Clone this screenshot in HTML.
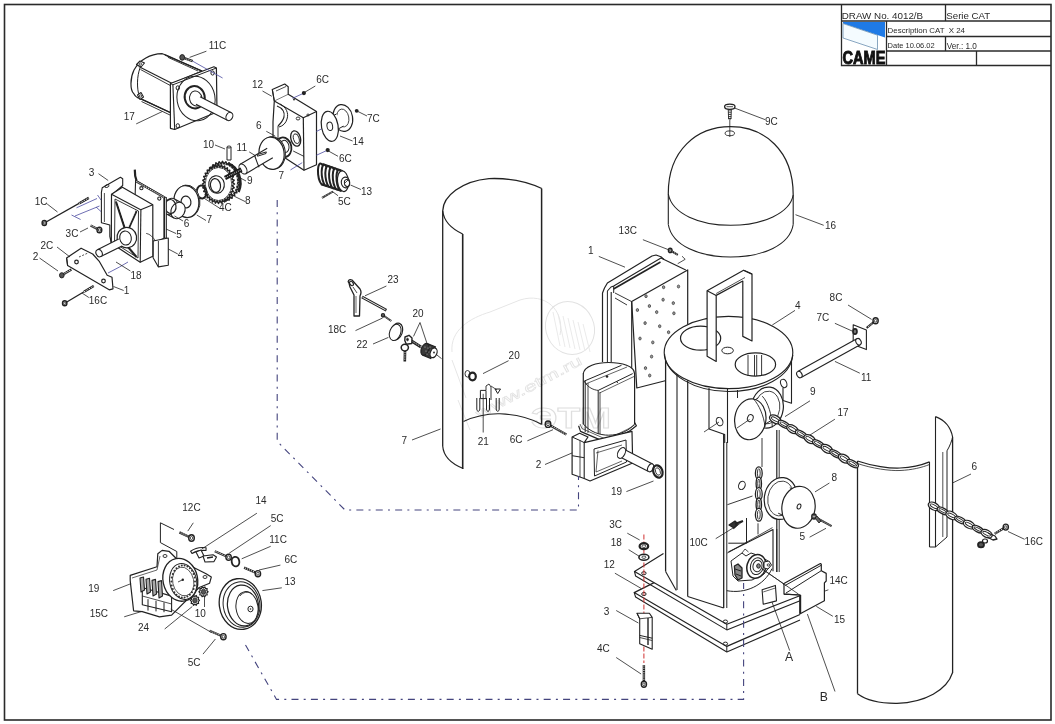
<!DOCTYPE html>
<html><head><meta charset="utf-8"><style>
html,body{margin:0;padding:0;background:#fff;}
svg{display:block;filter:blur(0.3px);font-family:"Liberation Sans",sans-serif;}
</style></head><body>
<svg width="1055" height="724" viewBox="0 0 1055 724">
<rect width="1055" height="724" fill="#fff"/>
<rect x="4.5" y="4.5" width="1046.5" height="715.5" fill="none" stroke="#2a2a2a" stroke-width="1.6"/>
<g stroke="#2a2a2a" stroke-width="1.3" fill="none"><polyline points="841.5,4.5 841.5,65.5 1051,65.5"/><line x1="841.5" y1="21" x2="1051" y2="21"/><line x1="886.5" y1="36.5" x2="1051" y2="36.5"/><line x1="886.5" y1="51" x2="1051" y2="51"/><line x1="886.5" y1="21" x2="886.5" y2="65.5"/><line x1="945.5" y1="4.5" x2="945.5" y2="21"/><line x1="945.5" y1="36.5" x2="945.5" y2="51"/><line x1="976.5" y1="51" x2="976.5" y2="65.5"/></g>
<polygon points="843,22 885,22 885,37.5 843,23.5" fill="#1f7ae6"/>
<polygon points="843,23.5 877.5,35.2 877.5,49.5 843,38" fill="#f4fbff" stroke="#6b8fb0" stroke-width="0.8"/>
<text x="842.5" y="64.0" font-size="17.5" fill="#111" font-weight="bold" textLength="43" lengthAdjust="spacingAndGlyphs" stroke="#111" stroke-width="0.9">CAME</text>
<text x="841.8" y="18.7" font-size="9.8" fill="#2a2a2a" >DRAW No. 4012/B</text>
<text x="946.3" y="18.7" font-size="9.7" fill="#2a2a2a" >Serie CAT</text>
<text x="887.6" y="33.3" font-size="7.9" fill="#2a2a2a" >Description CAT &#160;X 24</text>
<text x="887.6" y="48.4" font-size="7.5" fill="#2a2a2a" >Date 10.06.02</text>
<text x="946.8" y="48.6" font-size="8.2" fill="#2a2a2a" >Ver.: 1.0</text>
<path d="M442.7,211 C443,196 462,181 489,178.6 C510,177.8 528,182 541.8,188.5" stroke="#222" stroke-width="1.3" fill="none" stroke-linejoin="round" />
<path d="M442.7,211 C444,222 452,229 462.7,234" stroke="#222" stroke-width="1.2" fill="none" stroke-linejoin="round" />
<line x1="442.7" y1="211.0" x2="442.7" y2="446.0" stroke="#222" stroke-width="1.3" />
<path d="M442.7,446 C443.5,457 452,464 463.2,468.5" stroke="#222" stroke-width="1.2" fill="none" stroke-linejoin="round" />
<line x1="462.7" y1="234.0" x2="462.7" y2="469.0" stroke="#222" stroke-width="1.6" />
<line x1="541.6" y1="188.5" x2="541.6" y2="424.5" stroke="#222" stroke-width="1.5" />
<path d="M463.5,421.4 C478,415 490,413.5 500,413.8 C515,414.5 530,418 541.5,424.2" stroke="#222" stroke-width="1.1" fill="none" stroke-linejoin="round" />
<path d="M668.3,194 C668,150 697,126.7 730.5,126.7 C764,126.7 793.2,150 793.2,195" stroke="#222" stroke-width="1.2" fill="none" stroke-linejoin="round" />
<path d="M668.3,194 C672,214 700,225.3 730.5,225.3 C763,225.3 790,213 793.2,195" stroke="#222" stroke-width="1.1" fill="none" stroke-linejoin="round" />
<line x1="668.3" y1="194.0" x2="668.3" y2="224.5" stroke="#222" stroke-width="1.1" />
<line x1="793.2" y1="195.0" x2="793.2" y2="224.5" stroke="#222" stroke-width="1.1" />
<path d="M668.3,224.5 C672,246 700,257 730.5,257 C763,257 790,245 793.2,224.5" stroke="#222" stroke-width="1.1" fill="none" stroke-linejoin="round" />
<ellipse cx="729.8" cy="133.3" rx="4.7" ry="2.4" transform="rotate(0 729.8 133.3)" stroke="#222" stroke-width="0.9" fill="none"/>
<line x1="729.8" y1="120.0" x2="729.8" y2="137.0" stroke="#222" stroke-width="0.8" />
<polygon points="728.2,108.0 731.4,108.0 731.0,119.0 728.6,119.0" stroke="#222" stroke-width="0.9" fill="#fff" stroke-linejoin="round" />
<line x1="728.4" y1="110.0" x2="731.2" y2="110.0" stroke="#222" stroke-width="0.9" />
<line x1="728.4" y1="112.2" x2="731.2" y2="112.2" stroke="#222" stroke-width="0.9" />
<line x1="728.4" y1="114.4" x2="731.2" y2="114.4" stroke="#222" stroke-width="0.9" />
<line x1="728.4" y1="116.6" x2="731.2" y2="116.6" stroke="#222" stroke-width="0.9" />
<line x1="728.4" y1="118.6" x2="731.2" y2="118.6" stroke="#222" stroke-width="0.9" />
<ellipse cx="729.8" cy="106.7" rx="5.2" ry="2.6" transform="rotate(0 729.8 106.7)" stroke="#222" stroke-width="1.3" fill="#fff"/>
<line x1="726.5" y1="106.7" x2="733.0" y2="106.7" stroke="#222" stroke-width="0.8" />
<line x1="734.5" y1="108.0" x2="765.0" y2="119.6" stroke="#222" stroke-width="0.8" />
<text x="765.0" y="124.6" font-size="11.6" fill="#2a2a2a" textLength="12.8" lengthAdjust="spacingAndGlyphs">9C</text>
<line x1="795.5" y1="214.7" x2="823.7" y2="225.3" stroke="#222" stroke-width="0.8" />
<text x="824.9" y="229.1" font-size="11.6" fill="#2a2a2a" textLength="11.1" lengthAdjust="spacingAndGlyphs">16</text>
<polyline points="602.5,362.0 602.5,293.0 604.5,288.0 607.4,283.0 652.0,256.0 656.0,255.0 660.9,256.8 664.0,259.5" stroke="#222" stroke-width="1.2" fill="#fff" stroke-linejoin="round" />
<line x1="607.4" y1="291.0" x2="607.4" y2="362.0" stroke="#222" stroke-width="1.0" />
<line x1="611.2" y1="292.0" x2="611.2" y2="362.0" stroke="#222" stroke-width="1.1" />
<polyline points="607.4,291.0 611.0,287.0 613.7,286.0 661.0,258.0 664.0,259.5 685.8,269.9" stroke="#222" stroke-width="1.1" fill="none" stroke-linejoin="round" />
<line x1="613.7" y1="286.0" x2="613.7" y2="293.0" stroke="#222" stroke-width="1.0" />
<line x1="613.5" y1="289.0" x2="660.5" y2="262.0" stroke="#222" stroke-width="1.6" />
<line x1="615.0" y1="293.0" x2="631.7" y2="301.6" stroke="#222" stroke-width="0.9" />
<line x1="615.0" y1="298.0" x2="627.0" y2="305.0" stroke="#222" stroke-width="0.9" />
<polygon points="631.7,301.6 687.7,269.9 687.7,375.0 636.8,388.0" stroke="#222" stroke-width="1.2" fill="#fff" stroke-linejoin="round" />
<line x1="631.7" y1="301.6" x2="631.7" y2="388.0" stroke="#222" stroke-width="1.1" />
<ellipse cx="663.6" cy="287.2" rx="1.2" ry="1.5" transform="rotate(0 663.6 287.2)" stroke="#444" stroke-width="0.8" fill="#999"/>
<ellipse cx="678.5" cy="286.5" rx="1.2" ry="1.5" transform="rotate(0 678.5 286.5)" stroke="#444" stroke-width="0.8" fill="#999"/>
<ellipse cx="646.0" cy="296.2" rx="1.2" ry="1.5" transform="rotate(0 646.0 296.2)" stroke="#444" stroke-width="0.8" fill="#999"/>
<ellipse cx="663.1" cy="299.7" rx="1.2" ry="1.5" transform="rotate(0 663.1 299.7)" stroke="#444" stroke-width="0.8" fill="#999"/>
<ellipse cx="673.3" cy="303.1" rx="1.2" ry="1.5" transform="rotate(0 673.3 303.1)" stroke="#444" stroke-width="0.8" fill="#999"/>
<ellipse cx="649.4" cy="306.0" rx="1.2" ry="1.5" transform="rotate(0 649.4 306.0)" stroke="#444" stroke-width="0.8" fill="#999"/>
<ellipse cx="637.4" cy="310.0" rx="1.2" ry="1.5" transform="rotate(0 637.4 310.0)" stroke="#444" stroke-width="0.8" fill="#999"/>
<ellipse cx="656.7" cy="312.1" rx="1.2" ry="1.5" transform="rotate(0 656.7 312.1)" stroke="#444" stroke-width="0.8" fill="#999"/>
<ellipse cx="673.9" cy="313.3" rx="1.2" ry="1.5" transform="rotate(0 673.9 313.3)" stroke="#444" stroke-width="0.8" fill="#999"/>
<ellipse cx="645.1" cy="323.1" rx="1.2" ry="1.5" transform="rotate(0 645.1 323.1)" stroke="#444" stroke-width="0.8" fill="#999"/>
<ellipse cx="659.7" cy="326.2" rx="1.2" ry="1.5" transform="rotate(0 659.7 326.2)" stroke="#444" stroke-width="0.8" fill="#999"/>
<ellipse cx="668.6" cy="332.2" rx="1.2" ry="1.5" transform="rotate(0 668.6 332.2)" stroke="#444" stroke-width="0.8" fill="#999"/>
<ellipse cx="640.0" cy="338.5" rx="1.2" ry="1.5" transform="rotate(0 640.0 338.5)" stroke="#444" stroke-width="0.8" fill="#999"/>
<ellipse cx="652.8" cy="342.4" rx="1.2" ry="1.5" transform="rotate(0 652.8 342.4)" stroke="#444" stroke-width="0.8" fill="#999"/>
<ellipse cx="651.6" cy="356.6" rx="1.2" ry="1.5" transform="rotate(0 651.6 356.6)" stroke="#444" stroke-width="0.8" fill="#999"/>
<ellipse cx="645.5" cy="368.1" rx="1.2" ry="1.5" transform="rotate(0 645.5 368.1)" stroke="#444" stroke-width="0.8" fill="#999"/>
<ellipse cx="649.7" cy="375.5" rx="1.2" ry="1.5" transform="rotate(0 649.7 375.5)" stroke="#444" stroke-width="0.8" fill="#999"/>
<line x1="670.2" y1="250.4" x2="677.8" y2="254.9" stroke="#222" stroke-width="2.0" />
<line x1="670.2" y1="250.4" x2="677.8" y2="254.9" stroke="#fff" stroke-width="0.9" stroke-dasharray="1 1.2"/>
<ellipse cx="670.2" cy="250.4" rx="1.8" ry="2.1" transform="rotate(0 670.2 250.4)" stroke="#222" stroke-width="1.4" fill="#fff"/>
<ellipse cx="670.2" cy="250.4" rx="0.8" ry="1.0" transform="rotate(0 670.2 250.4)" stroke="#222" stroke-width="0.8" fill="none"/>
<polyline points="682.0,256.2 685.2,259.3 677.7,263.7" stroke="#222" stroke-width="0.8" fill="none" stroke-linejoin="round" />
<line x1="642.9" y1="239.7" x2="668.7" y2="249.8" stroke="#222" stroke-width="0.8" />
<text x="618.6" y="234.0" font-size="11.6" fill="#2a2a2a" textLength="18.3" lengthAdjust="spacingAndGlyphs">13C</text>
<line x1="598.8" y1="256.4" x2="625.0" y2="267.2" stroke="#222" stroke-width="0.8" />
<text x="588.0" y="253.7" font-size="11.6" fill="#2a2a2a" textLength="5.6" lengthAdjust="spacingAndGlyphs">1</text>
<polygon points="634.2,592.6 664.0,574.0 800.0,615.0 726.8,646.4" stroke="none" stroke-width="0" fill="#fff" stroke-linejoin="round" />
<polyline points="664.6,577.4 634.2,592.6 726.8,646.4 800.0,614.5" stroke="#222" stroke-width="1.2" fill="none" stroke-linejoin="round" />
<polyline points="634.2,592.6 635.6,597.0 726.8,652.0 800.0,620.0" stroke="#222" stroke-width="1.1" fill="none" stroke-linejoin="round" />
<line x1="726.8" y1="646.4" x2="726.8" y2="652.0" stroke="#222" stroke-width="1.0" />
<ellipse cx="725.4" cy="643.7" rx="2.2" ry="1.6" transform="rotate(0 725.4 643.7)" stroke="#222" stroke-width="1.0" fill="none"/>
<ellipse cx="643.9" cy="594.0" rx="2.2" ry="1.6" transform="rotate(0 643.9 594.0)" stroke="#222" stroke-width="1.0" fill="none"/>
<polygon points="634.5,571.5 663.5,553.5 810.0,590.0 726.8,624.3" stroke="none" stroke-width="0" fill="#fff" stroke-linejoin="round" />
<polyline points="663.5,553.5 634.5,571.5 726.8,624.3 812.0,591.0" stroke="#222" stroke-width="1.2" fill="none" stroke-linejoin="round" />
<polyline points="634.5,571.5 635.6,576.0 726.8,629.9 812.0,596.0" stroke="#222" stroke-width="1.1" fill="none" stroke-linejoin="round" />
<line x1="726.8" y1="624.3" x2="726.8" y2="629.9" stroke="#222" stroke-width="1.0" />
<ellipse cx="725.4" cy="621.6" rx="2.2" ry="1.6" transform="rotate(0 725.4 621.6)" stroke="#222" stroke-width="1.0" fill="none"/>
<ellipse cx="643.9" cy="573.2" rx="2.2" ry="1.6" transform="rotate(0 643.9 573.2)" stroke="#222" stroke-width="1.0" fill="none"/>
<polygon points="665.6,352.0 665.6,571.5 676.3,590.5 687.7,596.5 723.7,608.0 726.8,608.0 726.8,595.0 740.0,594.0 770.0,583.0 773.0,571.2 779.2,572.0 779.2,352.0" stroke="none" stroke-width="0" fill="#fff" stroke-linejoin="round" />
<line x1="665.6" y1="355.0" x2="665.6" y2="571.5" stroke="#222" stroke-width="1.3" />
<line x1="665.6" y1="571.5" x2="676.3" y2="590.5" stroke="#222" stroke-width="1.1" />
<line x1="677.0" y1="372.0" x2="677.0" y2="590.0" stroke="#222" stroke-width="1.1" />
<line x1="687.7" y1="378.0" x2="687.7" y2="596.5" stroke="#222" stroke-width="1.2" />
<line x1="687.7" y1="596.5" x2="723.7" y2="608.0" stroke="#222" stroke-width="1.1" />
<line x1="723.7" y1="434.0" x2="723.7" y2="608.0" stroke="#222" stroke-width="1.3" />
<line x1="726.8" y1="442.0" x2="726.8" y2="608.0" stroke="#222" stroke-width="1.0" />
<polyline points="709.0,388.0 709.0,429.0 724.7,434.6 724.7,443.0" stroke="#222" stroke-width="1.1" fill="none" stroke-linejoin="round" />
<line x1="727.5" y1="389.0" x2="727.5" y2="443.0" stroke="#222" stroke-width="1.1" />
<line x1="737.5" y1="390.0" x2="737.5" y2="398.0" stroke="#222" stroke-width="1.0" />
<ellipse cx="719.6" cy="421.6" rx="3.2" ry="4.3" transform="rotate(-20 719.6 421.6)" stroke="#222" stroke-width="1.0" fill="none"/>
<line x1="719.0" y1="422.0" x2="704.0" y2="432.0" stroke="#222" stroke-width="0.8" />
<line x1="776.8" y1="430.0" x2="776.8" y2="572.0" stroke="#222" stroke-width="1.2" />
<line x1="779.2" y1="430.0" x2="779.2" y2="572.0" stroke="#222" stroke-width="0.9" />
<polyline points="791.5,360.0 791.5,403.3 783.0,400.5 783.0,388.0" stroke="#222" stroke-width="1.1" fill="none" stroke-linejoin="round" />
<ellipse cx="783.7" cy="383.4" rx="3.0" ry="4.3" transform="rotate(-20 783.7 383.4)" stroke="#222" stroke-width="1.0" fill="none"/>
<ellipse cx="741.9" cy="485.4" rx="3.2" ry="4.3" transform="rotate(20 741.9 485.4)" stroke="#222" stroke-width="1.0" fill="none"/>
<polyline points="727.4,504.7 752.5,496.0" stroke="#222" stroke-width="0.9" fill="none" stroke-linejoin="round" />
<polyline points="728.5,552.0 773.0,529.6 773.0,571.2" stroke="#222" stroke-width="1.1" fill="none" stroke-linejoin="round" />
<line x1="776.8" y1="529.0" x2="776.8" y2="572.0" stroke="#222" stroke-width="0.9" />
<path d="M726.8,590.7 C745,594 764,586 772,568.6" stroke="#222" stroke-width="1.0" fill="none" stroke-linejoin="round" />
<ellipse cx="728.5" cy="352.5" rx="64.3" ry="36.2" transform="rotate(0 728.5 352.5)" stroke="#222" stroke-width="1.15" fill="#fff"/>
<path d="M664.5,354 C666,375 695,391.5 728.5,391.5 C762,391.5 791,377 792.8,355" stroke="#222" stroke-width="1.1" fill="none" stroke-linejoin="round" />
<ellipse cx="700.6" cy="338.2" rx="20.1" ry="12.0" transform="rotate(0 700.6 338.2)" stroke="#222" stroke-width="1.2" fill="none"/>
<ellipse cx="727.6" cy="350.5" rx="5.8" ry="3.3" transform="rotate(0 727.6 350.5)" stroke="#222" stroke-width="1.0" fill="none"/>
<ellipse cx="755.4" cy="364.5" rx="20.2" ry="11.6" transform="rotate(0 755.4 364.5)" stroke="#222" stroke-width="1.2" fill="none"/>
<line x1="748.0" y1="355.0" x2="748.0" y2="376.0" stroke="#222" stroke-width="0.9" />
<line x1="754.5" y1="355.0" x2="754.5" y2="376.0" stroke="#222" stroke-width="0.9" />
<line x1="756.7" y1="355.0" x2="756.7" y2="376.0" stroke="#222" stroke-width="0.9" />
<line x1="761.6" y1="355.0" x2="761.6" y2="376.0" stroke="#222" stroke-width="0.9" />
<polygon points="707.1,356.2 707.1,290.8 743.6,270.3 752.0,274.1 752.0,341.0 742.8,336.4 742.8,281.0 716.2,295.4 716.2,361.5 707.1,356.2" stroke="#222" stroke-width="1.2" fill="#fff" stroke-linejoin="round" />
<line x1="707.1" y1="290.8" x2="716.2" y2="295.4" stroke="#222" stroke-width="1.1" />
<line x1="743.6" y1="270.3" x2="752.0" y2="274.1" stroke="#222" stroke-width="1.1" />
<line x1="716.2" y1="293.5" x2="745.0" y2="277.5" stroke="#222" stroke-width="0.8" />
<line x1="795.0" y1="310.4" x2="772.3" y2="325.0" stroke="#222" stroke-width="0.8" />
<text x="795.0" y="308.6" font-size="11.6" fill="#2a2a2a" textLength="5.6" lengthAdjust="spacingAndGlyphs">4</text>
<polygon points="583.3,373.6 583.3,424.0 634.6,424.0 634.6,373.6" stroke="none" stroke-width="0" fill="#fff" stroke-linejoin="round" />
<line x1="583.3" y1="373.6" x2="583.3" y2="424.0" stroke="#222" stroke-width="1.2" />
<line x1="634.6" y1="373.6" x2="634.6" y2="424.0" stroke="#222" stroke-width="1.2" />
<path d="M583.3,374 C584,366 597,362.5 608.5,362.5 C622,362.5 634.6,366 634.6,374" stroke="#222" stroke-width="1.2" fill="#fff" stroke-linejoin="round" />
<line x1="584.2" y1="381.1" x2="621.5" y2="365.3" stroke="#222" stroke-width="1.0" />
<line x1="585.5" y1="384.0" x2="627.0" y2="367.0" stroke="#222" stroke-width="0.7" />
<line x1="598.2" y1="390.4" x2="632.7" y2="373.6" stroke="#222" stroke-width="1.0" />
<line x1="599.5" y1="393.0" x2="634.0" y2="376.5" stroke="#222" stroke-width="0.7" />
<line x1="585.2" y1="381.0" x2="585.2" y2="432.0" stroke="#222" stroke-width="1.0" />
<line x1="588.0" y1="383.0" x2="588.0" y2="433.0" stroke="#222" stroke-width="0.8" />
<line x1="598.2" y1="390.4" x2="598.2" y2="434.0" stroke="#222" stroke-width="1.0" />
<line x1="600.0" y1="392.0" x2="600.0" y2="434.0" stroke="#222" stroke-width="0.8" />
<path d="M584,381 C588,388 594,390 598.2,390.4" stroke="#222" stroke-width="0.9" fill="none" stroke-linejoin="round" />
<circle cx="607.0" cy="376.5" r="1.3" fill="#222"/>
<text x="616.5" y="384.0" font-size="5" fill="#2a2a2a" >&#8226;</text>
<path d="M583.3,424 C590,432 600,435.2 608.5,435.2 C620,435.2 630,430 634.6,424" stroke="#222" stroke-width="1.0" fill="none" stroke-linejoin="round" />
<polyline points="578.6,425.8 580.5,431.4 606.6,442.6 629.0,431.4 636.4,425.8 634.6,422.5" stroke="#222" stroke-width="1.2" fill="none" stroke-linejoin="round" />
<polyline points="580.0,424.0 582.0,428.6 606.6,439.5 628.0,429.0 634.6,425.0" stroke="#222" stroke-width="0.7" fill="none" stroke-linejoin="round" />
<polygon points="572.1,437.0 579.6,433.3 588.0,437.0 584.2,442.6 632.0,431.4 632.7,463.0 590.0,481.0 584.2,478.5 572.1,474.3" stroke="#222" stroke-width="1.2" fill="#fff" stroke-linejoin="round" />
<line x1="584.2" y1="442.6" x2="584.2" y2="478.5" stroke="#222" stroke-width="1.1" />
<line x1="572.1" y1="437.0" x2="580.0" y2="440.5" stroke="#222" stroke-width="1.0" />
<line x1="580.0" y1="440.5" x2="584.2" y2="442.6" stroke="#222" stroke-width="1.0" />
<line x1="580.0" y1="440.5" x2="580.0" y2="477.0" stroke="#222" stroke-width="0.8" />
<line x1="572.1" y1="455.7" x2="584.2" y2="457.7" stroke="#222" stroke-width="1.0" />
<polygon points="594.0,449.0 626.0,440.0 626.5,462.0 594.5,476.0" stroke="#222" stroke-width="1.0" fill="none" stroke-linejoin="round" />
<line x1="596.0" y1="453.0" x2="622.0" y2="445.0" stroke="#222" stroke-width="0.7" />
<line x1="596.0" y1="472.0" x2="622.0" y2="461.0" stroke="#222" stroke-width="0.7" />
<line x1="598.0" y1="450.5" x2="596.0" y2="472.0" stroke="#222" stroke-width="0.7" />
<polygon points="619.5,456.7 648.6,471.6 652.6,464.0 623.5,449.1" stroke="none" stroke-width="0" fill="#fff" stroke-linejoin="round" />
<line x1="619.5" y1="456.7" x2="648.6" y2="471.6" stroke="#222" stroke-width="1.1" />
<line x1="623.5" y1="449.1" x2="652.6" y2="464.0" stroke="#222" stroke-width="1.1" />
<ellipse cx="621.5" cy="452.9" rx="2.6" ry="4.3" transform="rotate(27.11369440294007 621.5 452.9)" stroke="#222" stroke-width="1.1" fill="#fff"/>
<ellipse cx="650.6" cy="467.8" rx="2.6" ry="4.3" transform="rotate(27.11369440294007 650.6 467.8)" stroke="#222" stroke-width="1.1" fill="#fff"/>
<ellipse cx="621.5" cy="452.9" rx="3.5" ry="5.8" transform="rotate(27 621.5 452.9)" stroke="#222" stroke-width="1.1" fill="#fff"/>
<ellipse cx="657.9" cy="471.5" rx="4.5" ry="6.3" transform="rotate(-20 657.9 471.5)" stroke="#222" stroke-width="2.2" fill="none"/>
<ellipse cx="657.9" cy="471.5" rx="2.3" ry="3.9" transform="rotate(-20 657.9 471.5)" stroke="#222" stroke-width="0.8" fill="none"/>
<line x1="626.4" y1="491.6" x2="653.5" y2="481.0" stroke="#222" stroke-width="0.8" />
<text x="611.0" y="494.8" font-size="11.6" fill="#2a2a2a" textLength="11.1" lengthAdjust="spacingAndGlyphs">19</text>
<line x1="545.0" y1="464.5" x2="572.2" y2="452.9" stroke="#222" stroke-width="0.8" />
<text x="535.8" y="467.7" font-size="11.6" fill="#2a2a2a" textLength="5.6" lengthAdjust="spacingAndGlyphs">2</text>
<line x1="548.0" y1="424.2" x2="566.4" y2="434.5" stroke="#222" stroke-width="2.3" />
<line x1="548.0" y1="424.2" x2="566.4" y2="434.5" stroke="#fff" stroke-width="1.035" stroke-dasharray="1 1.2"/>
<ellipse cx="548.0" cy="424.2" rx="2.8" ry="3.2" transform="rotate(0 548.0 424.2)" stroke="#222" stroke-width="1.4" fill="#fff"/>
<ellipse cx="548.0" cy="424.2" rx="1.3" ry="1.5" transform="rotate(0 548.0 424.2)" stroke="#222" stroke-width="0.8" fill="none"/>
<line x1="527.4" y1="440.8" x2="553.0" y2="429.7" stroke="#222" stroke-width="0.8" />
<text x="509.8" y="443.3" font-size="11.6" fill="#2a2a2a" textLength="12.8" lengthAdjust="spacingAndGlyphs">6C</text>
<line x1="857.5" y1="461.0" x2="857.5" y2="693.7" stroke="#222" stroke-width="1.3" />
<path d="M857.5,693.7 C866,700 880,703.5 897,703.3 C925,702.5 947,690 952.5,672.7" stroke="#222" stroke-width="1.2" fill="none" stroke-linejoin="round" />
<line x1="952.6" y1="437.0" x2="952.6" y2="673.0" stroke="#222" stroke-width="1.3" />
<path d="M857.5,461 C872,466 890,468.5 900,468 C912,467.5 922,465 929.5,461.9" stroke="#222" stroke-width="1.2" fill="none" stroke-linejoin="round" />
<path d="M857.5,463.5 C872,468.5 890,471 900,470.5 C912,470 922,467.5 929.5,464.5" stroke="#222" stroke-width="0.8" fill="none" stroke-linejoin="round" />
<line x1="929.5" y1="461.9" x2="929.5" y2="547.0" stroke="#222" stroke-width="1.1" />
<line x1="935.5" y1="416.6" x2="935.5" y2="547.0" stroke="#222" stroke-width="1.1" />
<path d="M935.5,416.6 C945,420 951,428 952.6,437" stroke="#222" stroke-width="1.2" fill="none" stroke-linejoin="round" />
<path d="M929.5,547 L935.5,547 L947,537 L947,450.8 C950,446 952,440 952.6,437" stroke="#222" stroke-width="1.0" fill="none" stroke-linejoin="round" />
<line x1="942.8" y1="452.0" x2="942.8" y2="537.0" stroke="#222" stroke-width="0.8" />
<line x1="971.0" y1="474.0" x2="952.7" y2="482.9" stroke="#222" stroke-width="0.8" />
<text x="971.5" y="469.9" font-size="11.6" fill="#2a2a2a" textLength="5.6" lengthAdjust="spacingAndGlyphs">6</text>
<ellipse cx="767.3" cy="407.6" rx="16.0" ry="20.6" transform="rotate(8 767.3 407.6)" stroke="#222" stroke-width="1.2" fill="#fff"/>
<ellipse cx="767.3" cy="407.6" rx="12.5" ry="16.5" transform="rotate(8 767.3 407.6)" stroke="#222" stroke-width="0.8" fill="none"/>
<path d="M762.3,396.2 C768,402 772,415 772.3,427.3" stroke="#222" stroke-width="0.9" fill="none" stroke-linejoin="round" />
<polygon points="758.8,428.1 771.8,420.1 758.2,397.9 745.2,405.9" stroke="none" stroke-width="0" fill="#fff" stroke-linejoin="round" />
<line x1="758.8" y1="428.1" x2="771.8" y2="420.1" stroke="#222" stroke-width="1.0" />
<line x1="745.2" y1="405.9" x2="758.2" y2="397.9" stroke="#222" stroke-width="1.0" />
<ellipse cx="750.3" cy="419.3" rx="15.6" ry="20.5" transform="rotate(8 750.3 419.3)" stroke="#222" stroke-width="1.2" fill="#fff"/>
<path d="M753.6,399 C759,405 764,416 765,427" stroke="#222" stroke-width="0.9" fill="none" stroke-linejoin="round" />
<ellipse cx="750.3" cy="418.2" rx="2.8" ry="3.6" transform="rotate(20 750.3 418.2)" stroke="#222" stroke-width="1.0" fill="none"/>
<line x1="749.5" y1="419.5" x2="737.0" y2="428.0" stroke="#222" stroke-width="0.8" />
<line x1="762.0" y1="438.0" x2="762.0" y2="467.0" stroke="#222" stroke-width="0.9" />
<line x1="810.0" y1="400.8" x2="785.0" y2="416.6" stroke="#222" stroke-width="0.8" />
<text x="810.0" y="394.6" font-size="11.6" fill="#2a2a2a" textLength="5.6" lengthAdjust="spacingAndGlyphs">9</text>
<ellipse cx="775.3" cy="419.4" rx="6.3" ry="3.7" transform="rotate(29.7 775.3 419.4)" stroke="#222" stroke-width="1.3" fill="#fff"/>
<ellipse cx="775.3" cy="419.4" rx="4.4" ry="1.5" transform="rotate(29.7 775.3 419.4)" stroke="#222" stroke-width="0.9" fill="none"/>
<ellipse cx="783.9" cy="424.4" rx="6.3" ry="2.9" transform="rotate(29.7 783.9 424.4)" stroke="#222" stroke-width="1.3" fill="#fff"/>
<ellipse cx="783.9" cy="424.4" rx="4.4" ry="1.2" transform="rotate(29.7 783.9 424.4)" stroke="#222" stroke-width="0.9" fill="none"/>
<ellipse cx="792.5" cy="429.2" rx="6.3" ry="3.7" transform="rotate(29.7 792.5 429.2)" stroke="#222" stroke-width="1.3" fill="#fff"/>
<ellipse cx="792.5" cy="429.2" rx="4.4" ry="1.5" transform="rotate(29.7 792.5 429.2)" stroke="#222" stroke-width="0.9" fill="none"/>
<ellipse cx="801.1" cy="434.1" rx="6.3" ry="2.9" transform="rotate(29.7 801.1 434.1)" stroke="#222" stroke-width="1.3" fill="#fff"/>
<ellipse cx="801.1" cy="434.1" rx="4.4" ry="1.2" transform="rotate(29.7 801.1 434.1)" stroke="#222" stroke-width="0.9" fill="none"/>
<ellipse cx="809.7" cy="439.1" rx="6.3" ry="3.7" transform="rotate(29.7 809.7 439.1)" stroke="#222" stroke-width="1.3" fill="#fff"/>
<ellipse cx="809.7" cy="439.1" rx="4.4" ry="1.5" transform="rotate(29.7 809.7 439.1)" stroke="#222" stroke-width="0.9" fill="none"/>
<ellipse cx="818.3" cy="443.9" rx="6.3" ry="2.9" transform="rotate(29.7 818.3 443.9)" stroke="#222" stroke-width="1.3" fill="#fff"/>
<ellipse cx="818.3" cy="443.9" rx="4.4" ry="1.2" transform="rotate(29.7 818.3 443.9)" stroke="#222" stroke-width="0.9" fill="none"/>
<ellipse cx="826.9" cy="448.9" rx="6.3" ry="3.7" transform="rotate(29.7 826.9 448.9)" stroke="#222" stroke-width="1.3" fill="#fff"/>
<ellipse cx="826.9" cy="448.9" rx="4.4" ry="1.5" transform="rotate(29.7 826.9 448.9)" stroke="#222" stroke-width="0.9" fill="none"/>
<ellipse cx="835.5" cy="453.8" rx="6.3" ry="2.9" transform="rotate(29.7 835.5 453.8)" stroke="#222" stroke-width="1.3" fill="#fff"/>
<ellipse cx="835.5" cy="453.8" rx="4.4" ry="1.2" transform="rotate(29.7 835.5 453.8)" stroke="#222" stroke-width="0.9" fill="none"/>
<ellipse cx="844.1" cy="458.6" rx="6.3" ry="3.7" transform="rotate(29.7 844.1 458.6)" stroke="#222" stroke-width="1.3" fill="#fff"/>
<ellipse cx="844.1" cy="458.6" rx="4.4" ry="1.5" transform="rotate(29.7 844.1 458.6)" stroke="#222" stroke-width="0.9" fill="none"/>
<ellipse cx="852.7" cy="463.6" rx="6.3" ry="2.9" transform="rotate(29.7 852.7 463.6)" stroke="#222" stroke-width="1.3" fill="#fff"/>
<ellipse cx="852.7" cy="463.6" rx="4.4" ry="1.2" transform="rotate(29.7 852.7 463.6)" stroke="#222" stroke-width="0.9" fill="none"/>
<line x1="834.9" y1="419.2" x2="810.0" y2="435.0" stroke="#222" stroke-width="0.8" />
<text x="837.5" y="415.6" font-size="11.6" fill="#2a2a2a" textLength="11.1" lengthAdjust="spacingAndGlyphs">17</text>
<ellipse cx="758.8" cy="473.2" rx="6.4" ry="3.4" transform="rotate(90.0 758.8 473.2)" stroke="#222" stroke-width="1.3" fill="#fff"/>
<ellipse cx="758.8" cy="473.2" rx="4.5" ry="1.4" transform="rotate(90.0 758.8 473.2)" stroke="#222" stroke-width="0.9" fill="none"/>
<ellipse cx="758.8" cy="483.6" rx="6.4" ry="2.7" transform="rotate(90.0 758.8 483.6)" stroke="#222" stroke-width="1.3" fill="#fff"/>
<ellipse cx="758.8" cy="483.6" rx="4.5" ry="1.1" transform="rotate(90.0 758.8 483.6)" stroke="#222" stroke-width="0.9" fill="none"/>
<ellipse cx="758.8" cy="494.0" rx="6.4" ry="3.4" transform="rotate(90.0 758.8 494.0)" stroke="#222" stroke-width="1.3" fill="#fff"/>
<ellipse cx="758.8" cy="494.0" rx="4.5" ry="1.4" transform="rotate(90.0 758.8 494.0)" stroke="#222" stroke-width="0.9" fill="none"/>
<ellipse cx="758.8" cy="504.4" rx="6.4" ry="2.7" transform="rotate(90.0 758.8 504.4)" stroke="#222" stroke-width="1.3" fill="#fff"/>
<ellipse cx="758.8" cy="504.4" rx="4.5" ry="1.1" transform="rotate(90.0 758.8 504.4)" stroke="#222" stroke-width="0.9" fill="none"/>
<ellipse cx="758.8" cy="514.8" rx="6.4" ry="3.4" transform="rotate(90.0 758.8 514.8)" stroke="#222" stroke-width="1.3" fill="#fff"/>
<ellipse cx="758.8" cy="514.8" rx="4.5" ry="1.4" transform="rotate(90.0 758.8 514.8)" stroke="#222" stroke-width="0.9" fill="none"/>
<polygon points="853.2,324.7 866.4,330.0 866.4,349.6 853.2,344.4" stroke="#222" stroke-width="1.1" fill="#fff" stroke-linejoin="round" />
<polygon points="856.8,338.7 797.7,371.6 801.1,377.6 860.2,344.7" stroke="none" stroke-width="0" fill="#fff" stroke-linejoin="round" />
<line x1="856.8" y1="338.7" x2="797.7" y2="371.6" stroke="#222" stroke-width="1.1" />
<line x1="860.2" y1="344.7" x2="801.1" y2="377.6" stroke="#222" stroke-width="1.1" />
<ellipse cx="858.5" cy="341.7" rx="2.5" ry="3.4" transform="rotate(150.89603137019105 858.5 341.7)" stroke="#222" stroke-width="1.1" fill="#fff"/>
<ellipse cx="799.4" cy="374.6" rx="2.5" ry="3.4" transform="rotate(150.89603137019105 799.4 374.6)" stroke="#222" stroke-width="1.1" fill="#fff"/>
<line x1="875.6" y1="320.7" x2="866.5" y2="328.0" stroke="#222" stroke-width="2.2" />
<line x1="875.6" y1="320.7" x2="866.5" y2="328.0" stroke="#fff" stroke-width="0.9900000000000001" stroke-dasharray="1 1.2"/>
<ellipse cx="875.6" cy="320.7" rx="2.6" ry="3.0" transform="rotate(0 875.6 320.7)" stroke="#222" stroke-width="1.4" fill="#fff"/>
<ellipse cx="875.6" cy="320.7" rx="1.2" ry="1.4" transform="rotate(0 875.6 320.7)" stroke="#222" stroke-width="0.8" fill="none"/>
<ellipse cx="855.0" cy="331.5" rx="2.0" ry="2.6" transform="rotate(0 855.0 331.5)" stroke="#222" stroke-width="1.6" fill="#777"/>
<line x1="848.0" y1="305.0" x2="871.6" y2="319.4" stroke="#222" stroke-width="0.8" />
<text x="829.6" y="301.3" font-size="11.6" fill="#2a2a2a" textLength="12.8" lengthAdjust="spacingAndGlyphs">8C</text>
<line x1="834.9" y1="323.3" x2="853.2" y2="331.5" stroke="#222" stroke-width="0.8" />
<text x="816.5" y="321.0" font-size="11.6" fill="#2a2a2a" textLength="12.8" lengthAdjust="spacingAndGlyphs">7C</text>
<line x1="859.8" y1="373.2" x2="834.9" y2="361.4" stroke="#222" stroke-width="0.8" />
<text x="861.0" y="381.3" font-size="11.6" fill="#2a2a2a" textLength="10.4" lengthAdjust="spacingAndGlyphs">11</text>
<ellipse cx="780.8" cy="498.5" rx="16.5" ry="21.0" transform="rotate(8 780.8 498.5)" stroke="#222" stroke-width="1.2" fill="#fff"/>
<ellipse cx="780.8" cy="498.5" rx="13.0" ry="17.5" transform="rotate(8 780.8 498.5)" stroke="#222" stroke-width="0.8" fill="none"/>
<polygon points="778.2,513.2 789.2,518.2 800.8,492.8 789.8,487.8" stroke="none" stroke-width="0" fill="#fff" stroke-linejoin="round" />
<line x1="778.2" y1="513.2" x2="789.2" y2="518.2" stroke="#222" stroke-width="1.0" />
<line x1="789.8" y1="487.8" x2="800.8" y2="492.8" stroke="#222" stroke-width="1.0" />
<ellipse cx="798.5" cy="507.3" rx="16.6" ry="21.0" transform="rotate(8 798.5 507.3)" stroke="#222" stroke-width="1.2" fill="#fff"/>
<ellipse cx="799.0" cy="506.5" rx="1.8" ry="2.6" transform="rotate(20 799.0 506.5)" stroke="#222" stroke-width="1.0" fill="none"/>
<line x1="814.0" y1="516.5" x2="831.6" y2="526.1" stroke="#222" stroke-width="2.0" />
<line x1="814.0" y1="516.5" x2="831.6" y2="526.1" stroke="#fff" stroke-width="0.9" stroke-dasharray="1 1.2"/>
<ellipse cx="814.0" cy="516.5" rx="2.2" ry="2.5" transform="rotate(0 814.0 516.5)" stroke="#222" stroke-width="1.4" fill="#fff"/>
<ellipse cx="814.0" cy="516.5" rx="1.0" ry="1.2" transform="rotate(0 814.0 516.5)" stroke="#222" stroke-width="0.8" fill="none"/>
<polygon points="817.0,516.0 821.0,521.0 819.0,523.0 815.0,518.0" stroke="#222" stroke-width="0.9" fill="#666" stroke-linejoin="round" />
<line x1="829.4" y1="483.0" x2="815.0" y2="491.9" stroke="#222" stroke-width="0.8" />
<text x="831.6" y="481.1" font-size="11.6" fill="#2a2a2a" textLength="5.6" lengthAdjust="spacingAndGlyphs">8</text>
<line x1="809.6" y1="537.2" x2="826.0" y2="528.3" stroke="#222" stroke-width="0.8" />
<text x="799.6" y="539.7" font-size="11.6" fill="#2a2a2a" textLength="5.6" lengthAdjust="spacingAndGlyphs">5</text>
<line x1="728.3" y1="543.2" x2="746.5" y2="543.2" stroke="#222" stroke-width="1.0" />
<line x1="746.5" y1="518.0" x2="746.5" y2="543.2" stroke="#222" stroke-width="1.0" />
<line x1="758.0" y1="523.3" x2="758.0" y2="534.4" stroke="#222" stroke-width="0.9" />
<line x1="727.2" y1="553.1" x2="772.5" y2="527.6" stroke="#222" stroke-width="0.8" />
<polygon points="731.0,561.0 742.0,553.0 746.0,556.0 751.0,553.0 760.0,556.0 768.0,561.0 770.0,566.0 764.0,574.0 752.0,580.0 738.0,581.0 733.0,576.0" stroke="#222" stroke-width="1.0" fill="#fff" stroke-linejoin="round" />
<ellipse cx="756.4" cy="566.4" rx="9.4" ry="12.1" transform="rotate(15 756.4 566.4)" stroke="#222" stroke-width="1.5" fill="#fff"/>
<ellipse cx="757.0" cy="566.2" rx="6.5" ry="8.5" transform="rotate(15 757.0 566.2)" stroke="#222" stroke-width="1.0" fill="#fff"/>
<ellipse cx="757.5" cy="566.0" rx="4.5" ry="5.8" transform="rotate(15 757.5 566.0)" stroke="#222" stroke-width="1.0" fill="#fff"/>
<ellipse cx="758.5" cy="566.0" rx="1.8" ry="2.2" transform="rotate(0 758.5 566.0)" stroke="#222" stroke-width="1.0" fill="#888"/>
<polygon points="764.0,562.0 769.0,561.0 771.5,565.0 768.0,569.0 764.0,568.0" stroke="#222" stroke-width="1.0" fill="#fff" stroke-linejoin="round" />
<ellipse cx="768.5" cy="565.0" rx="1.4" ry="1.1" transform="rotate(0 768.5 565.0)" stroke="#222" stroke-width="0.9" fill="none"/>
<polygon points="734.4,566.0 738.0,564.0 742.0,568.0 742.0,578.0 738.0,580.0 735.0,575.0" stroke="#222" stroke-width="1.3" fill="#888" stroke-linejoin="round" />
<line x1="735.0" y1="569.0" x2="741.0" y2="571.0" stroke="#222" stroke-width="1.0" />
<line x1="736.0" y1="574.0" x2="741.0" y2="576.0" stroke="#222" stroke-width="1.0" />
<line x1="742.0" y1="553.0" x2="745.0" y2="549.0" stroke="#222" stroke-width="0.8" />
<line x1="745.0" y1="549.0" x2="748.5" y2="552.0" stroke="#222" stroke-width="0.8" />
<line x1="733.0" y1="529.0" x2="743.0" y2="521.0" stroke="#222" stroke-width="0.8" />
<polygon points="729.0,525.0 735.0,521.0 738.0,524.0 734.0,528.0" stroke="#222" stroke-width="1.2" fill="#333" stroke-linejoin="round" />
<line x1="735.0" y1="524.0" x2="743.0" y2="521.0" stroke="#222" stroke-width="2.2" />
<line x1="715.7" y1="538.7" x2="733.7" y2="527.6" stroke="#222" stroke-width="0.8" />
<text x="689.5" y="545.9" font-size="11.6" fill="#2a2a2a" textLength="18.3" lengthAdjust="spacingAndGlyphs">10C</text>
<line x1="762.0" y1="568.8" x2="798.6" y2="594.2" stroke="#222" stroke-width="0.8" />
<polygon points="783.5,583.7 820.4,563.5 821.3,564.3 821.3,570.7 826.2,573.4 826.2,581.0 824.4,582.9 824.4,600.8 800.2,613.8 800.2,595.0 784.0,594.1 784.0,585.0" stroke="#222" stroke-width="1.2" fill="#fff" stroke-linejoin="round" />
<line x1="784.9" y1="585.6" x2="821.0" y2="565.4" stroke="#222" stroke-width="1.0" />
<line x1="786.0" y1="593.0" x2="821.3" y2="570.7" stroke="#222" stroke-width="1.0" />
<line x1="784.0" y1="594.1" x2="800.2" y2="595.0" stroke="#222" stroke-width="1.2" />
<line x1="800.2" y1="595.0" x2="800.2" y2="613.8" stroke="#222" stroke-width="2.0" />
<line x1="798.6" y1="594.2" x2="762.0" y2="568.8" stroke="#222" stroke-width="0.8" />
<polygon points="762.1,589.8 775.4,585.4 776.5,600.9 763.2,604.2" stroke="#222" stroke-width="1.1" fill="#fff" stroke-linejoin="round" />
<line x1="763.2" y1="592.0" x2="775.4" y2="588.0" stroke="#222" stroke-width="0.7" />
<line x1="789.7" y1="650.6" x2="772.0" y2="602.0" stroke="#222" stroke-width="0.8" />
<text x="785.0" y="660.6" font-size="12.2" fill="#2a2a2a" >A</text>
<line x1="835.0" y1="691.5" x2="807.4" y2="614.1" stroke="#222" stroke-width="0.8" />
<text x="819.8" y="700.6" font-size="12.2" fill="#2a2a2a" >B</text>
<line x1="828.4" y1="589.8" x2="825.0" y2="591.0" stroke="#222" stroke-width="0.8" />
<text x="829.5" y="583.5" font-size="11.6" fill="#2a2a2a" textLength="18.3" lengthAdjust="spacingAndGlyphs">14C</text>
<line x1="832.9" y1="616.3" x2="816.3" y2="606.4" stroke="#222" stroke-width="0.8" />
<text x="834.0" y="623.3" font-size="11.6" fill="#2a2a2a" textLength="11.1" lengthAdjust="spacingAndGlyphs">15</text>
<line x1="643.9" y1="534.5" x2="643.9" y2="663.0" stroke="#d03030" stroke-width="1.0" stroke-dasharray="5 2"/>
<ellipse cx="643.9" cy="546.2" rx="4.3" ry="3.0" transform="rotate(0 643.9 546.2)" stroke="#222" stroke-width="2.2" fill="#fff"/>
<ellipse cx="643.9" cy="546.2" rx="2.0" ry="1.3" transform="rotate(0 643.9 546.2)" stroke="#222" stroke-width="0.8" fill="none"/>
<ellipse cx="643.9" cy="557.2" rx="5.0" ry="3.0" transform="rotate(0 643.9 557.2)" stroke="#222" stroke-width="1.6" fill="#fff"/>
<ellipse cx="643.9" cy="557.2" rx="2.0" ry="1.2" transform="rotate(0 643.9 557.2)" stroke="#222" stroke-width="0.8" fill="none"/>
<polygon points="637.0,613.3 649.4,613.3 652.2,617.4 652.2,649.2 639.7,643.7 639.7,618.8" stroke="#222" stroke-width="1.1" fill="#fff" stroke-linejoin="round" />
<line x1="637.0" y1="613.3" x2="639.7" y2="618.8" stroke="#222" stroke-width="1.0" />
<line x1="639.7" y1="618.8" x2="652.2" y2="617.4" stroke="#222" stroke-width="0.8" />
<line x1="639.7" y1="635.4" x2="652.2" y2="638.2" stroke="#222" stroke-width="1.0" />
<line x1="639.7" y1="637.5" x2="652.2" y2="640.5" stroke="#222" stroke-width="0.8" />
<line x1="648.0" y1="618.0" x2="648.0" y2="645.0" stroke="#222" stroke-width="1.4" />
<line x1="643.9" y1="684.2" x2="643.9" y2="665.0" stroke="#222" stroke-width="2.4" />
<line x1="643.9" y1="684.2" x2="643.9" y2="665.0" stroke="#fff" stroke-width="1.08" stroke-dasharray="1 1.2"/>
<ellipse cx="643.9" cy="684.2" rx="2.6" ry="3.0" transform="rotate(0 643.9 684.2)" stroke="#222" stroke-width="1.4" fill="#fff"/>
<ellipse cx="643.9" cy="684.2" rx="1.2" ry="1.4" transform="rotate(0 643.9 684.2)" stroke="#222" stroke-width="0.8" fill="none"/>
<line x1="627.3" y1="533.2" x2="639.7" y2="540.0" stroke="#222" stroke-width="0.8" />
<text x="609.3" y="527.9" font-size="11.6" fill="#2a2a2a" textLength="12.8" lengthAdjust="spacingAndGlyphs">3C</text>
<line x1="628.7" y1="549.7" x2="639.7" y2="556.6" stroke="#222" stroke-width="0.8" />
<text x="610.7" y="545.9" font-size="11.6" fill="#2a2a2a" textLength="11.1" lengthAdjust="spacingAndGlyphs">18</text>
<line x1="614.9" y1="573.2" x2="641.1" y2="588.4" stroke="#222" stroke-width="0.8" />
<text x="603.8" y="568.0" font-size="11.6" fill="#2a2a2a" textLength="11.1" lengthAdjust="spacingAndGlyphs">12</text>
<line x1="616.2" y1="610.5" x2="638.4" y2="623.0" stroke="#222" stroke-width="0.8" />
<text x="603.8" y="615.0" font-size="11.6" fill="#2a2a2a" textLength="5.6" lengthAdjust="spacingAndGlyphs">3</text>
<line x1="616.2" y1="657.5" x2="641.1" y2="674.0" stroke="#222" stroke-width="0.8" />
<text x="596.9" y="652.3" font-size="11.6" fill="#2a2a2a" textLength="12.8" lengthAdjust="spacingAndGlyphs">4C</text>
<ellipse cx="933.9" cy="506.3" rx="6.0" ry="3.6" transform="rotate(27.5 933.9 506.3)" stroke="#222" stroke-width="1.3" fill="#fff"/>
<ellipse cx="933.9" cy="506.3" rx="4.2" ry="1.4" transform="rotate(27.5 933.9 506.3)" stroke="#222" stroke-width="0.9" fill="none"/>
<ellipse cx="942.7" cy="510.9" rx="6.0" ry="2.8" transform="rotate(27.5 942.7 510.9)" stroke="#222" stroke-width="1.3" fill="#fff"/>
<ellipse cx="942.7" cy="510.9" rx="4.2" ry="1.1" transform="rotate(27.5 942.7 510.9)" stroke="#222" stroke-width="0.9" fill="none"/>
<ellipse cx="951.5" cy="515.4" rx="6.0" ry="3.6" transform="rotate(27.5 951.5 515.4)" stroke="#222" stroke-width="1.3" fill="#fff"/>
<ellipse cx="951.5" cy="515.4" rx="4.2" ry="1.4" transform="rotate(27.5 951.5 515.4)" stroke="#222" stroke-width="0.9" fill="none"/>
<ellipse cx="960.2" cy="520.0" rx="6.0" ry="2.8" transform="rotate(27.5 960.2 520.0)" stroke="#222" stroke-width="1.3" fill="#fff"/>
<ellipse cx="960.2" cy="520.0" rx="4.2" ry="1.1" transform="rotate(27.5 960.2 520.0)" stroke="#222" stroke-width="0.9" fill="none"/>
<ellipse cx="969.0" cy="524.6" rx="6.0" ry="3.6" transform="rotate(27.5 969.0 524.6)" stroke="#222" stroke-width="1.3" fill="#fff"/>
<ellipse cx="969.0" cy="524.6" rx="4.2" ry="1.4" transform="rotate(27.5 969.0 524.6)" stroke="#222" stroke-width="0.9" fill="none"/>
<ellipse cx="977.8" cy="529.1" rx="6.0" ry="2.8" transform="rotate(27.5 977.8 529.1)" stroke="#222" stroke-width="1.3" fill="#fff"/>
<ellipse cx="977.8" cy="529.1" rx="4.2" ry="1.1" transform="rotate(27.5 977.8 529.1)" stroke="#222" stroke-width="0.9" fill="none"/>
<ellipse cx="986.6" cy="533.7" rx="6.0" ry="3.6" transform="rotate(27.5 986.6 533.7)" stroke="#222" stroke-width="1.3" fill="#fff"/>
<ellipse cx="986.6" cy="533.7" rx="4.2" ry="1.4" transform="rotate(27.5 986.6 533.7)" stroke="#222" stroke-width="0.9" fill="none"/>
<polyline points="988.0,533.0 995.0,536.0 997.0,539.0 993.0,540.0 987.0,537.0" stroke="#222" stroke-width="1.3" fill="none" stroke-linejoin="round" />
<ellipse cx="981.0" cy="544.8" rx="3.0" ry="2.6" transform="rotate(0 981.0 544.8)" stroke="#222" stroke-width="1.8" fill="#555"/>
<ellipse cx="985.0" cy="541.0" rx="2.5" ry="2.0" transform="rotate(0 985.0 541.0)" stroke="#222" stroke-width="1.2" fill="#fff"/>
<line x1="1005.8" y1="527.1" x2="994.7" y2="533.7" stroke="#222" stroke-width="2.3" />
<line x1="1005.8" y1="527.1" x2="994.7" y2="533.7" stroke="#fff" stroke-width="1.035" stroke-dasharray="1 1.2"/>
<ellipse cx="1005.8" cy="527.1" rx="2.6" ry="3.0" transform="rotate(0 1005.8 527.1)" stroke="#222" stroke-width="1.4" fill="#fff"/>
<ellipse cx="1005.8" cy="527.1" rx="1.2" ry="1.4" transform="rotate(0 1005.8 527.1)" stroke="#222" stroke-width="0.8" fill="none"/>
<line x1="1024.6" y1="539.3" x2="1008.0" y2="531.5" stroke="#222" stroke-width="0.8" />
<text x="1024.6" y="545.1" font-size="11.6" fill="#2a2a2a" textLength="18.3" lengthAdjust="spacingAndGlyphs">16C</text>
<polyline points="277.2,200.0 277.2,441.4 345.0,510.0 578.5,510.0 578.5,476.0" stroke="#44447e" stroke-width="1.1" fill="none" stroke-dasharray="7 5.2 2 5.2"/>
<polyline points="245.5,645.0 276.5,699.4 743.6,699.4 743.6,583.0" stroke="#44447e" stroke-width="1.1" fill="none" stroke-dasharray="7 5.2 2 5.2"/>
<path d="M162.3,53.7 C150,54 140,60 134,70 C130,78 130,90 133.7,93.5 C135,96 137,98 139.9,98.4 L171,113 L171,84 L202,71.1 L166,55 Z" stroke="#222" stroke-width="1.2" fill="#fff" stroke-linejoin="round" />
<path d="M140,68 C137,76 136.5,88 139.5,97" stroke="#222" stroke-width="1.0" fill="none" stroke-linejoin="round" />
<line x1="138.7" y1="66.5" x2="172.2" y2="83.5" stroke="#222" stroke-width="1.1" />
<line x1="140.5" y1="69.5" x2="172.2" y2="86.5" stroke="#222" stroke-width="0.9" />
<line x1="164.8" y1="55.0" x2="202.0" y2="71.1" stroke="#222" stroke-width="1.1" />
<line x1="167.9" y1="57.3" x2="198.0" y2="71.0" stroke="#222" stroke-width="0.9" />
<line x1="140.0" y1="98.4" x2="171.0" y2="112.7" stroke="#222" stroke-width="1.1" />
<line x1="141.5" y1="101.5" x2="171.0" y2="115.5" stroke="#222" stroke-width="0.9" />
<polygon points="136.5,64.5 140.0,61.0 144.5,63.0 141.0,67.0" stroke="#222" stroke-width="1.1" fill="#fff" stroke-linejoin="round" />
<ellipse cx="140.3" cy="64.0" rx="1.2" ry="1.2" transform="rotate(0 140.3 64.0)" stroke="#222" stroke-width="0.8" fill="none"/>
<polygon points="137.5,95.0 141.0,92.5 143.5,97.0 140.0,99.5" stroke="#222" stroke-width="1.1" fill="#fff" stroke-linejoin="round" />
<ellipse cx="140.5" cy="96.0" rx="1.1" ry="1.2" transform="rotate(0 140.5 96.0)" stroke="#222" stroke-width="0.8" fill="none"/>
<polygon points="170.4,83.5 213.9,66.8 216.4,68.0 217.0,112.0 174.7,129.5 170.4,128.3" stroke="#222" stroke-width="1.2" fill="#fff" stroke-linejoin="round" />
<polyline points="170.4,83.5 172.9,84.8 216.4,68.0" stroke="#222" stroke-width="1.0" fill="none" stroke-linejoin="round" />
<line x1="172.9" y1="84.8" x2="174.7" y2="129.5" stroke="#222" stroke-width="1.1" />
<ellipse cx="177.8" cy="87.9" rx="1.7" ry="2.1" transform="rotate(0 177.8 87.9)" stroke="#222" stroke-width="1.0" fill="none"/>
<ellipse cx="212.6" cy="73.0" rx="1.7" ry="2.1" transform="rotate(0 212.6 73.0)" stroke="#222" stroke-width="1.0" fill="none"/>
<ellipse cx="177.8" cy="125.8" rx="1.7" ry="2.1" transform="rotate(0 177.8 125.8)" stroke="#222" stroke-width="1.0" fill="none"/>
<ellipse cx="196.0" cy="98.5" rx="19.0" ry="22.4" transform="rotate(-10 196.0 98.5)" stroke="#222" stroke-width="1.0" fill="none"/>
<ellipse cx="194.7" cy="97.2" rx="10.0" ry="11.2" transform="rotate(-10 194.7 97.2)" stroke="#222" stroke-width="2.0" fill="none"/>
<ellipse cx="195.8" cy="98.5" rx="6.2" ry="7.5" transform="rotate(-10 195.8 98.5)" stroke="#222" stroke-width="1.0" fill="none"/>
<polygon points="196.0,104.3 227.4,120.3 231.4,112.7 200.0,96.7" stroke="none" stroke-width="0" fill="#fff" stroke-linejoin="round" />
<line x1="196.0" y1="104.3" x2="227.4" y2="120.3" stroke="#222" stroke-width="1.1" />
<line x1="200.0" y1="96.7" x2="231.4" y2="112.7" stroke="#222" stroke-width="1.1" />
<ellipse cx="229.4" cy="116.5" rx="3.2" ry="4.3" transform="rotate(27.00130502697844 229.4 116.5)" stroke="#222" stroke-width="1.1" fill="#fff"/>
<line x1="182.2" y1="57.4" x2="192.7" y2="61.2" stroke="#222" stroke-width="2.4" />
<line x1="182.2" y1="57.4" x2="192.7" y2="61.2" stroke="#fff" stroke-width="1.08" stroke-dasharray="1 1.2"/>
<ellipse cx="182.2" cy="57.4" rx="2.4" ry="2.8" transform="rotate(0 182.2 57.4)" stroke="#222" stroke-width="1" fill="#555"/>
<line x1="192.7" y1="61.2" x2="222.6" y2="78.0" stroke="#4a4aa0" stroke-width="0.8" />
<line x1="189.6" y1="57.4" x2="206.4" y2="51.2" stroke="#222" stroke-width="0.8" />
<text x="208.7" y="49.2" font-size="11.6" fill="#2a2a2a" textLength="17.6" lengthAdjust="spacingAndGlyphs">11C</text>
<line x1="136.2" y1="123.9" x2="162.3" y2="111.5" stroke="#222" stroke-width="0.8" />
<text x="123.8" y="119.6" font-size="11.6" fill="#2a2a2a" textLength="11.1" lengthAdjust="spacingAndGlyphs">17</text>
<polygon points="272.3,89.5 284.7,84.0 288.2,86.7 288.2,94.3 316.5,111.6 316.5,164.8 304.0,170.3 289.0,160.5 273.0,150.0 273.0,122.0 274.3,101.0" stroke="#222" stroke-width="1.2" fill="#fff" stroke-linejoin="round" />
<polyline points="274.3,101.0 303.3,117.8 316.5,111.6" stroke="#222" stroke-width="1.1" fill="none" stroke-linejoin="round" />
<line x1="303.3" y1="117.8" x2="304.0" y2="170.3" stroke="#222" stroke-width="1.2" />
<polyline points="272.3,89.5 274.3,101.0" stroke="#222" stroke-width="1.0" fill="none" stroke-linejoin="round" />
<polyline points="276.0,91.0 286.0,86.5" stroke="#222" stroke-width="0.8" fill="none" stroke-linejoin="round" />
<line x1="288.2" y1="94.3" x2="274.3" y2="101.0" stroke="#222" stroke-width="0.6" />
<path d="M277,106 C282,108 285,112 284,117 C283,121 280,124 278,126" stroke="#222" stroke-width="1.1" fill="none" stroke-linejoin="round" />
<path d="M280,104 C286,107 289,113 287,119 C286,123 283,126 279,127" stroke="#222" stroke-width="1.0" fill="none" stroke-linejoin="round" />
<line x1="278.0" y1="126.0" x2="278.0" y2="145.0" stroke="#222" stroke-width="0.9" />
<ellipse cx="295.7" cy="138.5" rx="4.8" ry="7.8" transform="rotate(-15 295.7 138.5)" stroke="#222" stroke-width="1.3" fill="#fff"/>
<ellipse cx="296.3" cy="138.7" rx="2.8" ry="5.0" transform="rotate(-15 296.3 138.7)" stroke="#222" stroke-width="0.9" fill="none"/>
<line x1="293.2" y1="151.0" x2="304.0" y2="156.4" stroke="#222" stroke-width="0.9" />
<ellipse cx="298.0" cy="118.5" rx="1.8" ry="1.5" transform="rotate(0 298.0 118.5)" stroke="#222" stroke-width="0.9" fill="none"/>
<ellipse cx="308.0" cy="115.0" rx="1.2" ry="1.0" transform="rotate(0 308.0 115.0)" stroke="#222" stroke-width="0.8" fill="none"/>
<circle cx="294.0" cy="99.5" r="0.9" fill="#222"/>
<line x1="292.5" y1="98.3" x2="303.9" y2="93.1" stroke="#4a4aa0" stroke-width="0.8" />
<circle cx="303.9" cy="93.1" r="2.1" fill="#222"/>
<line x1="305.0" y1="92.1" x2="315.3" y2="86.0" stroke="#222" stroke-width="0.8" />
<text x="316.3" y="83.1" font-size="11.6" fill="#2a2a2a" textLength="12.8" lengthAdjust="spacingAndGlyphs">6C</text>
<line x1="262.5" y1="91.0" x2="271.8" y2="96.3" stroke="#222" stroke-width="0.8" />
<text x="252.0" y="88.3" font-size="11.6" fill="#2a2a2a" textLength="11.1" lengthAdjust="spacingAndGlyphs">12</text>
<line x1="316.3" y1="131.5" x2="328.8" y2="125.3" stroke="#4a4aa0" stroke-width="0.8" />
<ellipse cx="342.8" cy="118.0" rx="9.8" ry="13.5" transform="rotate(-10 342.8 118.0)" stroke="#222" stroke-width="1.2" fill="#fff"/>
<ellipse cx="342.8" cy="118.0" rx="6.0" ry="9.0" transform="rotate(-10 342.8 118.0)" stroke="#222" stroke-width="0.8" fill="none"/>
<polygon points="334.4,131.1 343.4,126.1 336.6,113.9 327.6,118.9" stroke="none" stroke-width="0" fill="#fff" stroke-linejoin="round" />
<line x1="334.4" y1="131.1" x2="343.4" y2="126.1" stroke="#222" stroke-width="1.0" />
<line x1="327.6" y1="118.9" x2="336.6" y2="113.9" stroke="#222" stroke-width="1.0" />
<ellipse cx="329.8" cy="126.3" rx="8.3" ry="15.2" transform="rotate(-10 329.8 126.3)" stroke="#222" stroke-width="1.2" fill="#fff"/>
<ellipse cx="329.8" cy="126.3" rx="2.8" ry="4.2" transform="rotate(-10 329.8 126.3)" stroke="#222" stroke-width="1.0" fill="none"/>
<circle cx="356.7" cy="110.8" r="1.9" fill="#222"/>
<line x1="358.0" y1="111.5" x2="367.0" y2="116.0" stroke="#222" stroke-width="0.8" />
<text x="367.0" y="122.3" font-size="11.6" fill="#2a2a2a" textLength="12.8" lengthAdjust="spacingAndGlyphs">7C</text>
<line x1="352.6" y1="141.0" x2="340.0" y2="136.0" stroke="#222" stroke-width="0.8" />
<text x="352.6" y="145.3" font-size="11.6" fill="#2a2a2a" textLength="11.1" lengthAdjust="spacingAndGlyphs">14</text>
<line x1="316.3" y1="155.3" x2="327.7" y2="150.1" stroke="#4a4aa0" stroke-width="0.8" />
<circle cx="327.7" cy="150.1" r="2.1" fill="#222"/>
<line x1="328.8" y1="151.2" x2="338.0" y2="156.3" stroke="#222" stroke-width="0.8" />
<text x="339.0" y="161.8" font-size="11.6" fill="#2a2a2a" textLength="12.8" lengthAdjust="spacingAndGlyphs">6C</text>
<polygon points="321.0,163.5 343.0,171.0 344.0,191.5 321.0,184.5" stroke="none" stroke-width="0" fill="#fff" stroke-linejoin="round" />
<line x1="322.5" y1="163.6" x2="343.0" y2="170.8" stroke="#222" stroke-width="1.2" />
<line x1="321.0" y1="184.6" x2="341.0" y2="191.2" stroke="#222" stroke-width="1.2" />
<ellipse cx="321.5" cy="174.0" rx="3.4" ry="10.6" transform="rotate(-6 321.5 174.0)" stroke="#222" stroke-width="2.0" fill="#fff"/>
<ellipse cx="325.2" cy="175.2" rx="3.4" ry="10.6" transform="rotate(-6 325.2 175.2)" stroke="#222" stroke-width="2.0" fill="#fff"/>
<ellipse cx="328.9" cy="176.5" rx="3.4" ry="10.6" transform="rotate(-6 328.9 176.5)" stroke="#222" stroke-width="2.0" fill="#fff"/>
<ellipse cx="332.6" cy="177.8" rx="3.4" ry="10.6" transform="rotate(-6 332.6 177.8)" stroke="#222" stroke-width="2.0" fill="#fff"/>
<ellipse cx="336.3" cy="179.0" rx="3.4" ry="10.6" transform="rotate(-6 336.3 179.0)" stroke="#222" stroke-width="2.0" fill="#fff"/>
<ellipse cx="340.0" cy="180.2" rx="3.4" ry="10.6" transform="rotate(-6 340.0 180.2)" stroke="#222" stroke-width="2.0" fill="#fff"/>
<ellipse cx="343.0" cy="181.2" rx="5.5" ry="10.4" transform="rotate(-6 343.0 181.2)" stroke="#222" stroke-width="1.2" fill="#fff"/>
<ellipse cx="345.5" cy="182.5" rx="4.2" ry="5.4" transform="rotate(-6 345.5 182.5)" stroke="#222" stroke-width="1.1" fill="#fff"/>
<ellipse cx="347.0" cy="183.0" rx="2.6" ry="3.6" transform="rotate(-6 347.0 183.0)" stroke="#222" stroke-width="1.0" fill="none"/>
<line x1="344.0" y1="184.0" x2="348.0" y2="180.0" stroke="#222" stroke-width="0.8" />
<line x1="360.9" y1="189.5" x2="350.5" y2="185.0" stroke="#222" stroke-width="0.8" />
<text x="361.0" y="195.3" font-size="11.6" fill="#2a2a2a" textLength="11.1" lengthAdjust="spacingAndGlyphs">13</text>
<line x1="322.0" y1="197.8" x2="333.0" y2="191.5" stroke="#222" stroke-width="2.0" />
<line x1="322.0" y1="197.8" x2="333.0" y2="191.5" stroke="#fff" stroke-width="0.8" stroke-dasharray="0.8 1"/>
<line x1="338.0" y1="195.7" x2="333.0" y2="192.0" stroke="#222" stroke-width="0.8" />
<text x="338.0" y="205.3" font-size="11.6" fill="#2a2a2a" textLength="12.8" lengthAdjust="spacingAndGlyphs">5C</text>
<ellipse cx="283.4" cy="147.4" rx="8.0" ry="10.0" transform="rotate(-10 283.4 147.4)" stroke="#222" stroke-width="1.8" fill="#fff"/>
<ellipse cx="284.5" cy="146.5" rx="4.5" ry="6.2" transform="rotate(-10 284.5 146.5)" stroke="#222" stroke-width="1.0" fill="none"/>
<ellipse cx="272.8" cy="152.8" rx="12.5" ry="16.2" transform="rotate(-8 272.8 152.8)" stroke="#222" stroke-width="1.0" fill="#fff"/>
<ellipse cx="271.6" cy="153.3" rx="12.5" ry="16.2" transform="rotate(-8 271.6 153.3)" stroke="#222" stroke-width="1.2" fill="#fff"/>
<polygon points="245.8,173.7 272.8,157.7 267.2,148.3 240.2,164.3" stroke="none" stroke-width="0" fill="#fff" stroke-linejoin="round" />
<line x1="245.8" y1="173.7" x2="272.8" y2="157.7" stroke="#222" stroke-width="1.1" />
<line x1="240.2" y1="164.3" x2="267.2" y2="148.3" stroke="#222" stroke-width="1.1" />
<ellipse cx="243.0" cy="169.0" rx="3.3" ry="5.5" transform="rotate(-30.650667957052864 243.0 169.0)" stroke="#222" stroke-width="1.1" fill="#fff"/>
<path d="M254.6,155.5 C256,159 257.5,164 259.1,167.2" stroke="#222" stroke-width="1.1" fill="none" stroke-linejoin="round" />
<polygon points="257.3,154.6 266.3,151.9 266.0,153.5 257.5,156.2" stroke="#222" stroke-width="1.0" fill="none" stroke-linejoin="round" />
<line x1="249.2" y1="151.9" x2="256.0" y2="156.0" stroke="#222" stroke-width="0.8" />
<text x="236.6" y="151.3" font-size="11.6" fill="#2a2a2a" textLength="10.4" lengthAdjust="spacingAndGlyphs">11</text>
<line x1="266.3" y1="131.3" x2="275.3" y2="136.2" stroke="#222" stroke-width="0.8" />
<text x="256.0" y="128.7" font-size="11.6" fill="#2a2a2a" textLength="5.6" lengthAdjust="spacingAndGlyphs">6</text>
<text x="278.5" y="178.8" font-size="11.6" fill="#2a2a2a" textLength="5.6" lengthAdjust="spacingAndGlyphs">7</text>
<line x1="290.5" y1="169.9" x2="302.2" y2="162.7" stroke="#4a4aa0" stroke-width="0.8" />
<polygon points="227.0,147.0 231.0,147.0 231.0,160.0 227.0,160.0" stroke="#222" stroke-width="1.0" fill="#fff" stroke-linejoin="round" />
<ellipse cx="229.0" cy="147.0" rx="2.0" ry="1.0" transform="rotate(0 229.0 147.0)" stroke="#222" stroke-width="0.9" fill="#fff"/>
<line x1="215.0" y1="145.0" x2="225.0" y2="149.0" stroke="#222" stroke-width="0.8" />
<text x="203.0" y="148.3" font-size="11.6" fill="#2a2a2a" textLength="11.1" lengthAdjust="spacingAndGlyphs">10</text>
<line x1="238.5" y1="177.0" x2="246.0" y2="181.0" stroke="#222" stroke-width="0.8" />
<text x="247.0" y="183.8" font-size="11.6" fill="#2a2a2a" textLength="5.6" lengthAdjust="spacingAndGlyphs">9</text>
<polygon points="239.8,181.5 237.7,183.2 239.5,185.4 237.1,186.7 238.5,189.2 235.9,189.9 236.9,192.7 234.3,192.8 234.7,195.8 232.2,195.3 232.1,198.3 229.7,197.2 229.1,200.2 226.9,198.5 225.9,201.3 224.0,199.2 222.5,201.7 221.0,199.2 219.1,201.3 218.1,198.5 215.9,200.2 215.3,197.2 212.9,198.3 212.8,195.3 210.3,195.8 210.7,192.8 208.1,192.7 209.1,189.9 206.5,189.2 207.9,186.7 205.5,185.4 207.3,183.2 205.2,181.5 207.3,179.8 205.5,177.6 207.9,176.3 206.5,173.8 209.1,173.1 208.1,170.3 210.7,170.2 210.3,167.2 212.8,167.7 212.9,164.7 215.3,165.8 215.9,162.8 218.1,164.5 219.1,161.7 221.0,163.8 222.5,161.3 224.0,163.8 225.9,161.7 226.9,164.5 229.1,162.8 229.7,165.8 232.1,164.7 232.2,167.7 234.7,167.2 234.3,170.2 236.9,170.3 235.9,173.1 238.5,173.8 237.1,176.3 239.5,177.6 237.7,179.8" stroke="#222" stroke-width="1.5" fill="#fff" stroke-linejoin="round" />
<ellipse cx="222.5" cy="181.5" rx="15.0" ry="17.8" transform="rotate(0 222.5 181.5)" stroke="#222" stroke-width="0.6" fill="none"/>
<polygon points="234.5,184.0 232.3,185.7 234.2,187.8 231.8,188.9 233.3,191.5 230.7,192.0 231.8,194.8 229.2,194.7 229.8,197.8 227.3,197.1 227.4,200.2 225.0,198.9 224.6,202.0 222.5,200.2 221.6,203.1 219.9,200.8 218.5,203.5 217.1,200.8 215.4,203.1 214.5,200.2 212.4,202.0 212.0,198.9 209.6,200.2 209.7,197.1 207.2,197.8 207.8,194.7 205.2,194.8 206.3,192.0 203.7,191.5 205.2,188.9 202.8,187.8 204.7,185.7 202.5,184.0 204.7,182.3 202.8,180.2 205.2,179.1 203.7,176.5 206.3,176.0 205.2,173.2 207.8,173.3 207.2,170.2 209.7,170.9 209.6,167.8 212.0,169.1 212.4,166.0 214.5,167.8 215.4,164.9 217.1,167.2 218.5,164.5 219.9,167.2 221.6,164.9 222.5,167.8 224.6,166.0 225.0,169.1 227.4,167.8 227.3,170.9 229.8,170.2 229.2,173.3 231.8,173.2 230.7,176.0 233.3,176.5 231.8,179.1 234.2,180.2 232.3,182.3" stroke="#222" stroke-width="1.5" fill="#fff" stroke-linejoin="round" />
<ellipse cx="218.5" cy="184.0" rx="13.2" ry="16.5" transform="rotate(0 218.5 184.0)" stroke="#222" stroke-width="0.7" fill="none"/>
<ellipse cx="216.5" cy="184.5" rx="7.8" ry="8.8" transform="rotate(-10 216.5 184.5)" stroke="#222" stroke-width="1.1" fill="#fff"/>
<ellipse cx="215.5" cy="185.5" rx="5.0" ry="7.0" transform="rotate(-10 215.5 185.5)" stroke="#222" stroke-width="1.2" fill="none"/>
<ellipse cx="201.7" cy="192.0" rx="4.9" ry="6.5" transform="rotate(-8 201.7 192.0)" stroke="#222" stroke-width="2.0" fill="none"/>
<path d="M228,163.5 A17.3,20.2 0 0 1 238.5,192" stroke="#222" stroke-width="2.6" fill="none" stroke-linejoin="round" />
<line x1="225.0" y1="178.0" x2="241.5" y2="169.5" stroke="#1a1a1a" stroke-width="4.4" />
<line x1="225.5" y1="177.7" x2="241.0" y2="169.8" stroke="#ddd" stroke-width="1.1" stroke-dasharray="0.8 1.2"/>
<line x1="204.5" y1="198.5" x2="219.0" y2="207.8" stroke="#222" stroke-width="0.8" />
<text x="219.0" y="211.3" font-size="11.6" fill="#2a2a2a" textLength="12.8" lengthAdjust="spacingAndGlyphs">4C</text>
<line x1="234.6" y1="196.4" x2="245.0" y2="201.5" stroke="#222" stroke-width="0.8" />
<text x="245.0" y="203.9" font-size="11.6" fill="#2a2a2a" textLength="5.6" lengthAdjust="spacingAndGlyphs">8</text>
<ellipse cx="187.5" cy="201.0" rx="12.4" ry="16.0" transform="rotate(-8 187.5 201.0)" stroke="#222" stroke-width="0.9" fill="#fff"/>
<ellipse cx="186.4" cy="201.6" rx="12.4" ry="16.0" transform="rotate(-8 186.4 201.6)" stroke="#222" stroke-width="1.2" fill="#fff"/>
<ellipse cx="186.0" cy="202.0" rx="4.9" ry="5.9" transform="rotate(-8 186.0 202.0)" stroke="#222" stroke-width="1.2" fill="none"/>
<line x1="196.8" y1="215.0" x2="206.0" y2="220.5" stroke="#222" stroke-width="0.8" />
<text x="206.6" y="222.6" font-size="11.6" fill="#2a2a2a" textLength="5.6" lengthAdjust="spacingAndGlyphs">7</text>
<polygon points="166.5,214.0 174.0,218.0 182.0,203.0 174.5,199.0" stroke="none" stroke-width="0" fill="#fff" stroke-linejoin="round" />
<line x1="166.5" y1="214.0" x2="174.0" y2="218.0" stroke="#222" stroke-width="1.1" />
<line x1="174.5" y1="199.0" x2="182.0" y2="203.0" stroke="#222" stroke-width="1.1" />
<ellipse cx="170.5" cy="206.5" rx="6.8" ry="8.5" transform="rotate(28.072486935852957 170.5 206.5)" stroke="#222" stroke-width="1.1" fill="#fff"/>
<ellipse cx="178.0" cy="210.5" rx="6.8" ry="8.5" transform="rotate(28.072486935852957 178.0 210.5)" stroke="#222" stroke-width="1.1" fill="#fff"/>
<ellipse cx="170.5" cy="206.5" rx="5.5" ry="7.0" transform="rotate(-8 170.5 206.5)" stroke="#222" stroke-width="1.2" fill="none"/>
<line x1="174.5" y1="216.0" x2="183.0" y2="221.0" stroke="#222" stroke-width="0.8" />
<text x="183.8" y="226.8" font-size="11.6" fill="#2a2a2a" textLength="5.6" lengthAdjust="spacingAndGlyphs">6</text>
<polygon points="135.6,180.2 164.5,196.9 166.3,197.6 166.3,238.6 164.5,238.0 150.0,245.0 134.0,232.0" stroke="#222" stroke-width="1.1" fill="#fff" stroke-linejoin="round" />
<line x1="164.5" y1="196.9" x2="164.5" y2="238.0" stroke="#222" stroke-width="1.0" />
<polyline points="134.8,169.6 135.2,176.0 136.5,180.5" stroke="#222" stroke-width="2.2" fill="none" stroke-linejoin="round" />
<line x1="136.5" y1="181.5" x2="164.0" y2="197.2" stroke="#333" stroke-width="2.4" />
<line x1="136.5" y1="181.5" x2="164.0" y2="197.2" stroke="#fff" stroke-width="0.9" stroke-dasharray="1.2 1"/>
<ellipse cx="141.4" cy="188.2" rx="1.6" ry="1.6" transform="rotate(0 141.4 188.2)" stroke="#222" stroke-width="1.1" fill="#fff"/>
<ellipse cx="159.3" cy="198.6" rx="1.6" ry="1.6" transform="rotate(0 159.3 198.6)" stroke="#222" stroke-width="1.1" fill="#fff"/>
<line x1="163.8" y1="198.0" x2="163.8" y2="238.0" stroke="#222" stroke-width="0.9" />
<line x1="176.0" y1="233.5" x2="166.0" y2="229.0" stroke="#222" stroke-width="0.8" />
<text x="176.2" y="237.8" font-size="11.6" fill="#2a2a2a" textLength="5.6" lengthAdjust="spacingAndGlyphs">5</text>
<polygon points="153.1,241.0 168.3,238.0 168.3,265.3 158.4,266.9 153.1,257.7" stroke="#222" stroke-width="1.1" fill="#fff" stroke-linejoin="round" />
<line x1="158.4" y1="241.0" x2="158.4" y2="266.9" stroke="#222" stroke-width="0.9" />
<line x1="177.8" y1="254.0" x2="168.3" y2="249.0" stroke="#222" stroke-width="0.8" />
<text x="177.8" y="258.3" font-size="11.6" fill="#2a2a2a" textLength="5.6" lengthAdjust="spacingAndGlyphs">4</text>
<polygon points="101.4,192.4 102.2,187.8 120.4,177.2 122.7,178.7 122.7,185.5 112.0,194.6 111.3,243.3 109.8,236.4 109.8,225.0 104.4,223.5 101.4,222.8" stroke="#222" stroke-width="1.1" fill="#fff" stroke-linejoin="round" />
<ellipse cx="107.0" cy="186.0" rx="2.2" ry="1.2" transform="rotate(-30 107.0 186.0)" stroke="#222" stroke-width="0.9" fill="none"/>
<line x1="104.4" y1="193.0" x2="104.4" y2="222.0" stroke="#222" stroke-width="0.8" />
<polygon points="111.5,194.3 122.4,187.2 152.8,204.8 152.8,256.2 140.2,262.3 111.3,243.3" stroke="#222" stroke-width="1.2" fill="#fff" stroke-linejoin="round" />
<line x1="111.5" y1="194.3" x2="140.7" y2="209.8" stroke="#222" stroke-width="1.1" />
<line x1="140.7" y1="209.8" x2="152.8" y2="204.8" stroke="#222" stroke-width="1.1" />
<line x1="140.9" y1="209.1" x2="140.2" y2="262.3" stroke="#222" stroke-width="1.1" />
<polygon points="115.0,199.0 138.5,211.0 138.0,258.0 114.5,243.0" stroke="#222" stroke-width="0.9" fill="none" stroke-linejoin="round" />
<line x1="116.0" y1="201.5" x2="126.0" y2="232.0" stroke="#222" stroke-width="2.2" />
<line x1="117.5" y1="201.0" x2="127.5" y2="231.0" stroke="#fff" stroke-width="0.8" />
<line x1="136.5" y1="211.0" x2="128.0" y2="230.0" stroke="#222" stroke-width="2.0" />
<line x1="135.0" y1="211.5" x2="127.0" y2="229.5" stroke="#fff" stroke-width="0.8" />
<line x1="128.0" y1="247.0" x2="136.5" y2="257.0" stroke="#222" stroke-width="2.0" />
<ellipse cx="126.8" cy="237.6" rx="9.8" ry="10.2" transform="rotate(-10 126.8 237.6)" stroke="#222" stroke-width="1.2" fill="#fff"/>
<ellipse cx="125.5" cy="238.0" rx="5.8" ry="7.0" transform="rotate(-10 125.5 238.0)" stroke="#222" stroke-width="1.1" fill="none"/>
<path d="M146.2,233.4 C150,234 153,237 155.4,241" stroke="#222" stroke-width="0.8" fill="none" stroke-linejoin="round" />
<polygon points="100.8,256.6 122.1,245.9 118.7,239.1 97.4,249.8" stroke="none" stroke-width="0" fill="#fff" stroke-linejoin="round" />
<line x1="100.8" y1="256.6" x2="122.1" y2="245.9" stroke="#222" stroke-width="1.1" />
<line x1="97.4" y1="249.8" x2="118.7" y2="239.1" stroke="#222" stroke-width="1.1" />
<ellipse cx="99.1" cy="253.2" rx="3.0" ry="3.8" transform="rotate(-26.6725478230174 99.1 253.2)" stroke="#222" stroke-width="1.1" fill="#fff"/>
<line x1="98.5" y1="173.7" x2="108.2" y2="180.5" stroke="#222" stroke-width="0.8" />
<text x="88.8" y="175.9" font-size="11.6" fill="#2a2a2a" textLength="5.6" lengthAdjust="spacingAndGlyphs">3</text>
<line x1="76.5" y1="207.8" x2="97.0" y2="198.5" stroke="#4a4aa0" stroke-width="0.8" />
<line x1="75.0" y1="216.0" x2="99.5" y2="206.0" stroke="#4a4aa0" stroke-width="0.8" />
<line x1="97.5" y1="195.0" x2="101.0" y2="200.0" stroke="#4a4aa0" stroke-width="0.8" />
<line x1="96.0" y1="207.0" x2="101.0" y2="211.5" stroke="#4a4aa0" stroke-width="0.8" />
<line x1="71.5" y1="215.0" x2="80.6" y2="219.5" stroke="#4a4aa0" stroke-width="0.8" />
<polygon points="66.6,257.9 81.1,248.2 92.7,254.0 99.5,261.7 107.2,275.3 112.0,277.2 113.0,288.8 109.2,289.8 67.6,265.6" stroke="#222" stroke-width="1.2" fill="#fff" stroke-linejoin="round" />
<line x1="67.6" y1="265.6" x2="66.6" y2="257.9" stroke="#222" stroke-width="1.0" />
<ellipse cx="76.5" cy="262.0" rx="1.8" ry="1.8" transform="rotate(0 76.5 262.0)" stroke="#222" stroke-width="1.2" fill="none"/>
<ellipse cx="103.5" cy="281.0" rx="1.8" ry="1.8" transform="rotate(0 103.5 281.0)" stroke="#222" stroke-width="1.2" fill="none"/>
<line x1="79.0" y1="257.0" x2="88.0" y2="253.0" stroke="#222" stroke-width="0.8" stroke-dasharray="2 1.5"/>
<line x1="108.0" y1="273.0" x2="119.5" y2="267.0" stroke="#4a4aa0" stroke-width="0.8" />
<line x1="119.5" y1="267.0" x2="128.0" y2="262.0" stroke="#4a4aa0" stroke-width="0.8" />
<line x1="130.4" y1="271.0" x2="116.0" y2="262.0" stroke="#222" stroke-width="0.8" />
<text x="130.4" y="279.3" font-size="11.6" fill="#2a2a2a" textLength="11.1" lengthAdjust="spacingAndGlyphs">18</text>
<line x1="123.7" y1="290.5" x2="113.5" y2="286.5" stroke="#222" stroke-width="0.8" />
<text x="123.7" y="293.9" font-size="11.6" fill="#2a2a2a" textLength="5.6" lengthAdjust="spacingAndGlyphs">1</text>
<line x1="44.3" y1="223.0" x2="88.8" y2="197.9" stroke="#222" stroke-width="1.3" />
<ellipse cx="44.3" cy="223.0" rx="2.2" ry="2.5" transform="rotate(0 44.3 223.0)" stroke="#222" stroke-width="1.4" fill="#fff"/>
<ellipse cx="44.3" cy="223.0" rx="1.0" ry="1.2" transform="rotate(0 44.3 223.0)" stroke="#222" stroke-width="0.8" fill="none"/>
<line x1="79.0" y1="203.5" x2="88.8" y2="197.9" stroke="#222" stroke-width="2.4" />
<line x1="79.0" y1="203.5" x2="88.8" y2="197.9" stroke="#fff" stroke-width="1.0" stroke-dasharray="1 1"/>
<line x1="47.2" y1="204.0" x2="57.5" y2="212.0" stroke="#222" stroke-width="0.8" />
<text x="34.7" y="205.0" font-size="11.6" fill="#2a2a2a" textLength="12.8" lengthAdjust="spacingAndGlyphs">1C</text>
<line x1="99.4" y1="230.0" x2="90.5" y2="225.5" stroke="#222" stroke-width="2.4" />
<line x1="99.4" y1="230.0" x2="90.5" y2="225.5" stroke="#fff" stroke-width="1.08" stroke-dasharray="1 1.2"/>
<ellipse cx="99.4" cy="230.0" rx="2.4" ry="2.8" transform="rotate(0 99.4 230.0)" stroke="#222" stroke-width="1.4" fill="#fff"/>
<ellipse cx="99.4" cy="230.0" rx="1.1" ry="1.3" transform="rotate(0 99.4 230.0)" stroke="#222" stroke-width="0.8" fill="none"/>
<line x1="80.0" y1="232.0" x2="88.0" y2="228.0" stroke="#222" stroke-width="0.8" />
<text x="65.6" y="236.9" font-size="11.6" fill="#2a2a2a" textLength="12.8" lengthAdjust="spacingAndGlyphs">3C</text>
<line x1="61.8" y1="275.3" x2="71.4" y2="269.5" stroke="#222" stroke-width="2.4" />
<line x1="61.8" y1="275.3" x2="71.4" y2="269.5" stroke="#fff" stroke-width="1.08" stroke-dasharray="1 1.2"/>
<ellipse cx="61.8" cy="275.3" rx="2.3" ry="2.6" transform="rotate(0 61.8 275.3)" stroke="#222" stroke-width="1" fill="#555"/>
<line x1="57.0" y1="247.0" x2="70.0" y2="257.0" stroke="#222" stroke-width="0.8" />
<text x="40.5" y="248.5" font-size="11.6" fill="#2a2a2a" textLength="12.8" lengthAdjust="spacingAndGlyphs">2C</text>
<line x1="39.5" y1="258.0" x2="58.0" y2="271.0" stroke="#222" stroke-width="0.8" />
<text x="32.7" y="260.3" font-size="11.6" fill="#2a2a2a" textLength="5.6" lengthAdjust="spacingAndGlyphs">2</text>
<line x1="64.7" y1="303.3" x2="93.7" y2="286.0" stroke="#222" stroke-width="1.3" />
<ellipse cx="64.7" cy="303.3" rx="2.2" ry="2.5" transform="rotate(0 64.7 303.3)" stroke="#222" stroke-width="1.4" fill="#fff"/>
<ellipse cx="64.7" cy="303.3" rx="1.0" ry="1.2" transform="rotate(0 64.7 303.3)" stroke="#222" stroke-width="0.8" fill="none"/>
<line x1="84.0" y1="291.8" x2="93.7" y2="286.0" stroke="#222" stroke-width="2.4" />
<line x1="84.0" y1="291.8" x2="93.7" y2="286.0" stroke="#fff" stroke-width="1.0" stroke-dasharray="1 1"/>
<line x1="88.8" y1="297.5" x2="82.0" y2="293.0" stroke="#222" stroke-width="0.8" />
<text x="88.8" y="303.6" font-size="11.6" fill="#2a2a2a" textLength="18.3" lengthAdjust="spacingAndGlyphs">16C</text>
<path d="M349,283 C347,281 349,279 352,280 L360,289 C362,292 361,294 360,296 L359.5,316 L354,316 L354,295 L350,287 Z" stroke="#222" stroke-width="1.3" fill="#fff" stroke-linejoin="round" />
<ellipse cx="351.5" cy="283.5" rx="1.6" ry="2.4" transform="rotate(-35 351.5 283.5)" stroke="#222" stroke-width="1.1" fill="none"/>
<line x1="353.0" y1="287.0" x2="357.0" y2="293.0" stroke="#222" stroke-width="0.8" />
<line x1="356.0" y1="296.0" x2="356.0" y2="313.0" stroke="#222" stroke-width="0.7" />
<line x1="362.0" y1="297.0" x2="386.4" y2="310.3" stroke="#222" stroke-width="2.8" />
<line x1="362.5" y1="297.3" x2="385.5" y2="309.8" stroke="#fff" stroke-width="0.9" />
<line x1="386.4" y1="286.0" x2="365.0" y2="295.8" stroke="#222" stroke-width="0.8" />
<text x="387.4" y="282.5" font-size="11.6" fill="#2a2a2a" textLength="11.1" lengthAdjust="spacingAndGlyphs">23</text>
<line x1="383.0" y1="315.3" x2="391.3" y2="321.0" stroke="#222" stroke-width="1.9" />
<line x1="383.0" y1="315.3" x2="391.3" y2="321.0" stroke="#fff" stroke-width="0.855" stroke-dasharray="1 1.2"/>
<ellipse cx="383.0" cy="315.3" rx="1.5" ry="1.7" transform="rotate(0 383.0 315.3)" stroke="#222" stroke-width="1.4" fill="#fff"/>
<ellipse cx="383.0" cy="315.3" rx="0.7" ry="0.8" transform="rotate(0 383.0 315.3)" stroke="#222" stroke-width="0.8" fill="none"/>
<line x1="355.5" y1="330.6" x2="382.6" y2="318.0" stroke="#222" stroke-width="0.8" />
<text x="328.0" y="332.8" font-size="11.6" fill="#2a2a2a" textLength="18.3" lengthAdjust="spacingAndGlyphs">18C</text>
<ellipse cx="396.5" cy="331.6" rx="5.8" ry="8.7" transform="rotate(20 396.5 331.6)" stroke="#222" stroke-width="1.2" fill="#fff"/>
<ellipse cx="395.2" cy="332.4" rx="5.5" ry="8.4" transform="rotate(20 395.2 332.4)" stroke="#222" stroke-width="1.0" fill="#fff"/>
<line x1="373.0" y1="344.0" x2="388.4" y2="337.4" stroke="#222" stroke-width="0.8" />
<text x="356.4" y="348.3" font-size="11.6" fill="#2a2a2a" textLength="11.1" lengthAdjust="spacingAndGlyphs">22</text>
<line x1="411.6" y1="341.0" x2="421.0" y2="347.0" stroke="#222" stroke-width="3.0" />
<line x1="412.5" y1="341.5" x2="420.5" y2="346.4" stroke="#fff" stroke-width="0.8" stroke-dasharray="1.2 1"/>
<polygon points="405.0,337.0 409.0,335.3 412.0,338.0 411.8,343.5 406.3,344.2 404.8,340.5" stroke="#222" stroke-width="1.4" fill="#fff" stroke-linejoin="round" />
<ellipse cx="407.5" cy="339.5" rx="0.9" ry="1.3" transform="rotate(0 407.5 339.5)" stroke="#222" stroke-width="0.8" fill="#222"/>
<line x1="405.0" y1="351.0" x2="404.8" y2="361.5" stroke="#222" stroke-width="2.6" />
<line x1="405.0" y1="352.0" x2="404.8" y2="360.5" stroke="#fff" stroke-width="0.8" stroke-dasharray="1.2 1"/>
<ellipse cx="404.8" cy="347.6" rx="3.6" ry="3.3" transform="rotate(0 404.8 347.6)" stroke="#222" stroke-width="1.5" fill="#fff"/>
<polygon points="422.7,355.2 431.3,358.6 435.9,347.0 427.3,343.6" stroke="none" stroke-width="0" fill="#3a3a3a" stroke-linejoin="round" />
<line x1="422.7" y1="355.2" x2="431.3" y2="358.6" stroke="#222" stroke-width="1.2" />
<line x1="427.3" y1="343.6" x2="435.9" y2="347.0" stroke="#222" stroke-width="1.2" />
<ellipse cx="425.0" cy="349.4" rx="3.7" ry="6.2" transform="rotate(21.571307191254743 425.0 349.4)" stroke="#222" stroke-width="1.2" fill="#3a3a3a"/>
<circle cx="425.0" cy="347.0" r="0.6" fill="#bbb"/>
<circle cx="428.0" cy="348.0" r="0.6" fill="#bbb"/>
<circle cx="430.0" cy="347.0" r="0.6" fill="#bbb"/>
<circle cx="426.0" cy="351.0" r="0.6" fill="#bbb"/>
<circle cx="429.0" cy="352.0" r="0.6" fill="#bbb"/>
<circle cx="431.0" cy="350.0" r="0.6" fill="#bbb"/>
<circle cx="427.0" cy="354.0" r="0.6" fill="#bbb"/>
<circle cx="430.0" cy="354.0" r="0.6" fill="#bbb"/>
<ellipse cx="433.6" cy="352.8" rx="3.3" ry="5.0" transform="rotate(20 433.6 352.8)" stroke="#222" stroke-width="1.2" fill="#fff"/>
<circle cx="434.0" cy="352.5" r="0.9" fill="#222"/>
<polyline points="413.5,336.4 420.0,322.5 427.0,343.5" stroke="#222" stroke-width="0.8" fill="none" stroke-linejoin="round" />
<text x="412.5" y="317.3" font-size="11.6" fill="#2a2a2a" textLength="11.1" lengthAdjust="spacingAndGlyphs">20</text>
<line x1="436.7" y1="354.8" x2="441.6" y2="358.7" stroke="#222" stroke-width="0.8" />
<ellipse cx="467.5" cy="373.8" rx="2.5" ry="3.3" transform="rotate(0 467.5 373.8)" stroke="#222" stroke-width="0.9" fill="none"/>
<ellipse cx="472.5" cy="376.5" rx="3.3" ry="3.8" transform="rotate(0 472.5 376.5)" stroke="#222" stroke-width="2.2" fill="#fff"/>
<line x1="483.0" y1="373.6" x2="508.6" y2="360.7" stroke="#222" stroke-width="0.8" />
<text x="508.6" y="358.9" font-size="11.6" fill="#2a2a2a" textLength="11.1" lengthAdjust="spacingAndGlyphs">20</text>
<polygon points="480.4,390.4 486.0,390.4 486.0,398.6 480.4,398.6" stroke="#222" stroke-width="1.0" fill="#fff" stroke-linejoin="round" />
<polyline points="486.0,390.0 486.0,386.0 489.0,384.0 491.0,387.0 491.0,400.0" stroke="#222" stroke-width="0.9" fill="none" stroke-linejoin="round" />
<path d="M476.8,398 L476.8,409 C476.8,412 479.8,412 479.8,409 L479.8,398" stroke="#222" stroke-width="1.0" fill="none" stroke-linejoin="round" />
<path d="M486.5,398 L486.5,409 C486.5,412 489.5,412 489.5,409 L489.5,398" stroke="#222" stroke-width="1.0" fill="none" stroke-linejoin="round" />
<path d="M496.2,398 L496.2,409 C496.2,412 499.2,412 499.2,409 L499.2,398" stroke="#222" stroke-width="1.0" fill="none" stroke-linejoin="round" />
<polygon points="495.0,389.0 500.5,389.0 497.7,393.5" stroke="#222" stroke-width="1.0" fill="none" stroke-linejoin="round" />
<line x1="491.0" y1="386.0" x2="497.0" y2="390.0" stroke="#222" stroke-width="0.8" />
<line x1="483.2" y1="393.8" x2="483.2" y2="432.5" stroke="#222" stroke-width="0.8" />
<text x="477.7" y="444.5" font-size="11.6" fill="#2a2a2a" textLength="11.1" lengthAdjust="spacingAndGlyphs">21</text>
<line x1="412.0" y1="440.0" x2="440.5" y2="429.0" stroke="#222" stroke-width="0.8" />
<text x="401.5" y="444.0" font-size="11.6" fill="#2a2a2a" textLength="5.6" lengthAdjust="spacingAndGlyphs">7</text>
<polyline points="174.0,529.5 160.4,522.8 160.4,542.6 176.8,551.5 176.8,560.5" stroke="#222" stroke-width="1.0" fill="none" stroke-linejoin="round" />
<line x1="191.5" y1="538.0" x2="179.4" y2="532.3" stroke="#222" stroke-width="2.4" />
<line x1="191.5" y1="538.0" x2="179.4" y2="532.3" stroke="#fff" stroke-width="1.08" stroke-dasharray="1 1.2"/>
<ellipse cx="191.5" cy="538.0" rx="2.8" ry="3.2" transform="rotate(0 191.5 538.0)" stroke="#222" stroke-width="1.4" fill="#fff"/>
<ellipse cx="191.5" cy="538.0" rx="1.3" ry="1.5" transform="rotate(0 191.5 538.0)" stroke="#222" stroke-width="0.8" fill="none"/>
<line x1="193.3" y1="522.8" x2="187.8" y2="531.1" stroke="#222" stroke-width="0.8" />
<text x="182.3" y="510.7" font-size="11.6" fill="#2a2a2a" textLength="18.3" lengthAdjust="spacingAndGlyphs">12C</text>
<polygon points="130.2,575.4 157.0,566.8 157.8,553.8 162.1,550.4 169.0,551.3 176.8,559.0 206.1,573.7 211.3,577.1 209.6,583.2 199.2,587.5 171.6,615.1 159.5,616.8 142.3,611.7 133.6,610.8 130.2,580.6" stroke="#222" stroke-width="1.2" fill="#fff" stroke-linejoin="round" />
<ellipse cx="165.0" cy="556.0" rx="2.0" ry="1.5" transform="rotate(0 165.0 556.0)" stroke="#222" stroke-width="0.9" fill="none"/>
<ellipse cx="205.0" cy="577.0" rx="2.0" ry="1.5" transform="rotate(0 205.0 577.0)" stroke="#222" stroke-width="0.9" fill="none"/>
<polyline points="132.0,578.0 157.0,570.0 160.0,556.0" stroke="#222" stroke-width="0.7" fill="none" stroke-linejoin="round" />
<polygon points="142.3,587.5 171.6,596.1 171.6,611.7 142.3,604.8" stroke="#222" stroke-width="1.1" fill="#fff" stroke-linejoin="round" />
<polygon points="140.0,578.0 143.5,577.0 144.5,590.0 141.0,592.0" stroke="#222" stroke-width="1.1" fill="#aaa" stroke-linejoin="round" />
<polygon points="146.0,579.2 149.5,578.2 150.5,592.0 147.0,594.0" stroke="#222" stroke-width="1.1" fill="#aaa" stroke-linejoin="round" />
<polygon points="152.0,580.4 155.5,579.4 156.5,594.0 153.0,596.0" stroke="#222" stroke-width="1.1" fill="#aaa" stroke-linejoin="round" />
<polygon points="158.0,581.6 161.5,580.6 162.5,596.0 159.0,598.0" stroke="#222" stroke-width="1.1" fill="#aaa" stroke-linejoin="round" />
<line x1="148.0" y1="599.2" x2="148.0" y2="610.6" stroke="#222" stroke-width="1.0" />
<line x1="156.0" y1="600.8" x2="156.0" y2="611.4" stroke="#222" stroke-width="1.0" />
<line x1="164.0" y1="602.4" x2="164.0" y2="612.2" stroke="#222" stroke-width="1.0" />
<line x1="142.3" y1="596.0" x2="171.6" y2="604.0" stroke="#222" stroke-width="0.8" />
<ellipse cx="180.3" cy="579.8" rx="17.3" ry="21.6" transform="rotate(-12 180.3 579.8)" stroke="#222" stroke-width="1.3" fill="#fff"/>
<ellipse cx="183.2" cy="581.5" rx="13.4" ry="18.1" transform="rotate(-12 183.2 581.5)" stroke="#222" stroke-width="1.0" fill="#fff"/>
<circle cx="195.0" cy="581.5" r="1.0" fill="#333"/>
<circle cx="194.7" cy="585.4" r="1.0" fill="#333"/>
<circle cx="193.6" cy="589.0" r="1.0" fill="#333"/>
<circle cx="192.0" cy="592.2" r="1.0" fill="#333"/>
<circle cx="189.9" cy="594.8" r="1.0" fill="#333"/>
<circle cx="187.4" cy="596.6" r="1.0" fill="#333"/>
<circle cx="184.6" cy="597.6" r="1.0" fill="#333"/>
<circle cx="181.8" cy="597.6" r="1.0" fill="#333"/>
<circle cx="179.0" cy="596.6" r="1.0" fill="#333"/>
<circle cx="176.5" cy="594.8" r="1.0" fill="#333"/>
<circle cx="174.4" cy="592.2" r="1.0" fill="#333"/>
<circle cx="172.8" cy="589.0" r="1.0" fill="#333"/>
<circle cx="171.7" cy="585.4" r="1.0" fill="#333"/>
<circle cx="171.4" cy="581.5" r="1.0" fill="#333"/>
<circle cx="171.7" cy="577.6" r="1.0" fill="#333"/>
<circle cx="172.8" cy="574.0" r="1.0" fill="#333"/>
<circle cx="174.4" cy="570.8" r="1.0" fill="#333"/>
<circle cx="176.5" cy="568.2" r="1.0" fill="#333"/>
<circle cx="179.0" cy="566.4" r="1.0" fill="#333"/>
<circle cx="181.8" cy="565.4" r="1.0" fill="#333"/>
<circle cx="184.6" cy="565.4" r="1.0" fill="#333"/>
<circle cx="187.4" cy="566.4" r="1.0" fill="#333"/>
<circle cx="189.9" cy="568.2" r="1.0" fill="#333"/>
<circle cx="192.0" cy="570.8" r="1.0" fill="#333"/>
<circle cx="193.6" cy="574.0" r="1.0" fill="#333"/>
<circle cx="194.7" cy="577.6" r="1.0" fill="#333"/>
<ellipse cx="183.2" cy="581.5" rx="10.5" ry="14.5" transform="rotate(-12 183.2 581.5)" stroke="#222" stroke-width="0.7" fill="none"/>
<circle cx="182.8" cy="579.7" r="1.2" fill="#222"/>
<line x1="182.8" y1="579.7" x2="178.0" y2="582.0" stroke="#222" stroke-width="0.8" />
<polygon points="208.1,591.8 206.8,593.0 207.2,594.9 205.5,595.0 204.9,596.7 203.5,595.7 202.1,596.7 201.5,595.0 199.8,594.9 200.2,593.0 198.9,591.8 200.2,590.6 199.8,588.7 201.5,588.6 202.1,586.9 203.5,587.9 204.9,586.9 205.5,588.6 207.2,588.7 206.8,590.6" stroke="#222" stroke-width="1.2" fill="#fff" stroke-linejoin="round" />
<ellipse cx="203.5" cy="591.8" rx="2.2" ry="2.6" transform="rotate(0 203.5 591.8)" stroke="#222" stroke-width="0.8" fill="#555"/>
<polygon points="199.5,600.4 198.2,601.6 198.6,603.5 196.9,603.6 196.3,605.3 194.9,604.3 193.5,605.3 192.9,603.6 191.2,603.5 191.6,601.6 190.3,600.4 191.6,599.2 191.2,597.3 192.9,597.2 193.5,595.5 194.9,596.5 196.3,595.5 196.9,597.2 198.6,597.3 198.2,599.2" stroke="#222" stroke-width="1.2" fill="#fff" stroke-linejoin="round" />
<ellipse cx="194.9" cy="600.4" rx="2.2" ry="2.6" transform="rotate(0 194.9 600.4)" stroke="#222" stroke-width="0.8" fill="#555"/>
<line x1="204.5" y1="597.0" x2="204.5" y2="607.0" stroke="#222" stroke-width="0.8" />
<text x="194.7" y="617.1" font-size="11.6" fill="#2a2a2a" textLength="11.1" lengthAdjust="spacingAndGlyphs">10</text>
<path d="M190.6,551.2 C195,548 201,547 206.1,547.8 L206,550.5 C201,550 196,551 192,553.5 Z" stroke="#222" stroke-width="1.1" fill="#fff" stroke-linejoin="round" />
<polygon points="196.0,552.0 201.0,550.0 204.0,556.0 199.0,558.0" stroke="#222" stroke-width="1.1" fill="#fff" stroke-linejoin="round" />
<polygon points="203.0,556.0 213.0,554.7 216.5,557.0 214.0,561.6 205.0,562.0" stroke="#222" stroke-width="1.1" fill="#fff" stroke-linejoin="round" />
<line x1="207.0" y1="558.0" x2="213.0" y2="557.0" stroke="#222" stroke-width="1.4" />
<line x1="256.9" y1="513.2" x2="201.6" y2="549.1" stroke="#222" stroke-width="0.8" />
<text x="255.5" y="503.8" font-size="11.6" fill="#2a2a2a" textLength="11.1" lengthAdjust="spacingAndGlyphs">14</text>
<line x1="228.6" y1="557.3" x2="214.8" y2="551.2" stroke="#222" stroke-width="2.3" />
<line x1="228.6" y1="557.3" x2="214.8" y2="551.2" stroke="#fff" stroke-width="1.035" stroke-dasharray="1 1.2"/>
<ellipse cx="228.6" cy="557.3" rx="2.7" ry="3.1" transform="rotate(0 228.6 557.3)" stroke="#222" stroke-width="1.4" fill="#fff"/>
<ellipse cx="228.6" cy="557.3" rx="1.2" ry="1.5" transform="rotate(0 228.6 557.3)" stroke="#222" stroke-width="0.8" fill="none"/>
<line x1="270.7" y1="525.6" x2="229.2" y2="553.2" stroke="#222" stroke-width="0.8" />
<text x="270.7" y="521.8" font-size="11.6" fill="#2a2a2a" textLength="12.8" lengthAdjust="spacingAndGlyphs">5C</text>
<ellipse cx="235.5" cy="561.6" rx="3.8" ry="4.8" transform="rotate(-10 235.5 561.6)" stroke="#222" stroke-width="1.8" fill="#fff"/>
<line x1="270.7" y1="546.3" x2="241.7" y2="558.8" stroke="#222" stroke-width="0.8" />
<text x="269.3" y="542.5" font-size="11.6" fill="#2a2a2a" textLength="17.6" lengthAdjust="spacingAndGlyphs">11C</text>
<line x1="257.9" y1="573.7" x2="244.1" y2="567.6" stroke="#222" stroke-width="2.3" />
<line x1="257.9" y1="573.7" x2="244.1" y2="567.6" stroke="#fff" stroke-width="1.035" stroke-dasharray="1 1.2"/>
<ellipse cx="257.9" cy="573.7" rx="2.7" ry="3.1" transform="rotate(0 257.9 573.7)" stroke="#222" stroke-width="1.4" fill="#fff"/>
<ellipse cx="257.9" cy="573.7" rx="1.2" ry="1.5" transform="rotate(0 257.9 573.7)" stroke="#222" stroke-width="0.8" fill="none"/>
<line x1="280.4" y1="565.1" x2="259.0" y2="570.0" stroke="#222" stroke-width="0.8" />
<text x="284.5" y="563.2" font-size="11.6" fill="#2a2a2a" textLength="12.8" lengthAdjust="spacingAndGlyphs">6C</text>
<line x1="223.4" y1="636.7" x2="209.6" y2="630.7" stroke="#222" stroke-width="2.3" />
<line x1="223.4" y1="636.7" x2="209.6" y2="630.7" stroke="#fff" stroke-width="1.035" stroke-dasharray="1 1.2"/>
<ellipse cx="223.4" cy="636.7" rx="2.7" ry="3.1" transform="rotate(0 223.4 636.7)" stroke="#222" stroke-width="1.4" fill="#fff"/>
<ellipse cx="223.4" cy="636.7" rx="1.2" ry="1.5" transform="rotate(0 223.4 636.7)" stroke="#222" stroke-width="0.8" fill="none"/>
<line x1="203.0" y1="654.1" x2="215.4" y2="639.0" stroke="#222" stroke-width="0.8" />
<text x="187.8" y="665.5" font-size="11.6" fill="#2a2a2a" textLength="12.8" lengthAdjust="spacingAndGlyphs">5C</text>
<line x1="170.7" y1="609.1" x2="211.3" y2="632.4" stroke="#222" stroke-width="0.8" />
<ellipse cx="240.3" cy="604.0" rx="21.0" ry="25.5" transform="rotate(-8 240.3 604.0)" stroke="#222" stroke-width="1.3" fill="#fff"/>
<ellipse cx="241.5" cy="604.5" rx="18.3" ry="22.8" transform="rotate(-8 241.5 604.5)" stroke="#222" stroke-width="1.0" fill="none"/>
<ellipse cx="243.0" cy="605.5" rx="15.5" ry="20.5" transform="rotate(-8 243.0 605.5)" stroke="#222" stroke-width="1.2" fill="none"/>
<ellipse cx="247.0" cy="607.5" rx="11.0" ry="16.0" transform="rotate(-8 247.0 607.5)" stroke="#222" stroke-width="1.0" fill="#fff"/>
<path d="M240,596 C243,592 248,591 252,594" stroke="#222" stroke-width="0.8" fill="none" stroke-linejoin="round" />
<ellipse cx="250.5" cy="609.0" rx="2.6" ry="2.8" transform="rotate(0 250.5 609.0)" stroke="#222" stroke-width="1.0" fill="none"/>
<circle cx="250.5" cy="609.0" r="0.8" fill="#222"/>
<line x1="281.8" y1="587.8" x2="262.4" y2="590.6" stroke="#222" stroke-width="0.8" />
<text x="284.5" y="585.3" font-size="11.6" fill="#2a2a2a" textLength="11.1" lengthAdjust="spacingAndGlyphs">13</text>
<line x1="113.2" y1="590.6" x2="131.1" y2="583.6" stroke="#222" stroke-width="0.8" />
<text x="88.3" y="592.3" font-size="11.6" fill="#2a2a2a" textLength="11.1" lengthAdjust="spacingAndGlyphs">19</text>
<line x1="124.2" y1="616.8" x2="142.2" y2="611.3" stroke="#222" stroke-width="0.8" />
<text x="89.7" y="617.1" font-size="11.6" fill="#2a2a2a" textLength="18.3" lengthAdjust="spacingAndGlyphs">15C</text>
<line x1="164.7" y1="629.0" x2="192.3" y2="606.5" stroke="#222" stroke-width="0.8" />
<text x="138.0" y="630.9" font-size="11.6" fill="#2a2a2a" textLength="11.1" lengthAdjust="spacingAndGlyphs">24</text>
<g style="mix-blend-mode:multiply">
<text x="531.0" y="428.0" font-size="29" fill="none" font-weight="bold" stroke="#dedede" stroke-width="1.0" textLength="80" lengthAdjust="spacingAndGlyphs">&#1069;&#1058;&#1052;</text>
<text x="479.0" y="419.0" font-size="14" fill="none" stroke="#e2e2e2" stroke-width="0.6" transform="rotate(-28 479 419)" textLength="118" lengthAdjust="spacingAndGlyphs">www.etm.ru</text>
<path d="M452,352 C450,330 470,318 490,312 L520,300 C545,292 565,310 560,335" stroke="#e6e6e6" stroke-width="1.0" fill="none" stroke-linejoin="round" />
<path d="M458,400 L470,430 M452,360 L466,398" stroke="#e6e6e6" stroke-width="1.0" fill="none" stroke-linejoin="round" />
<ellipse cx="570.0" cy="328.0" rx="24.0" ry="27.0" transform="rotate(-25 570.0 328.0)" stroke="#e2e2e2" stroke-width="1.0" fill="none"/>
<line x1="553.0" y1="312.0" x2="560.0" y2="346.0" stroke="#e8e8e8" stroke-width="0.9" />
<line x1="558.0" y1="314.0" x2="565.0" y2="347.0" stroke="#e8e8e8" stroke-width="0.9" />
<line x1="563.0" y1="316.0" x2="570.0" y2="348.0" stroke="#e8e8e8" stroke-width="0.9" />
<line x1="568.0" y1="318.0" x2="575.0" y2="349.0" stroke="#e8e8e8" stroke-width="0.9" />
<line x1="573.0" y1="320.0" x2="580.0" y2="350.0" stroke="#e8e8e8" stroke-width="0.9" />
<line x1="578.0" y1="322.0" x2="585.0" y2="351.0" stroke="#e8e8e8" stroke-width="0.9" />
<line x1="583.0" y1="324.0" x2="590.0" y2="352.0" stroke="#e8e8e8" stroke-width="0.9" />
</g>
</svg></body></html>
